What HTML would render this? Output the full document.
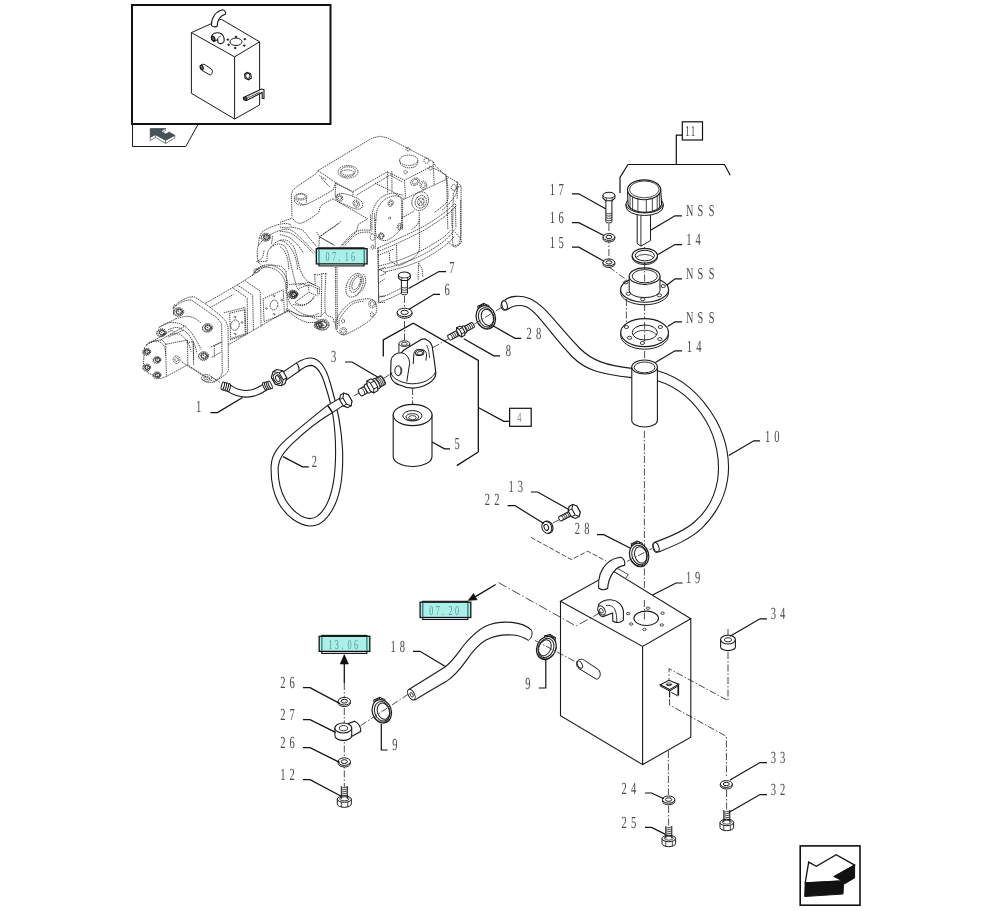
<!DOCTYPE html>
<html lang="en"><head><meta charset="utf-8"><title>Hydraulic tank and filter - parts diagram</title>
<style>
html,body{margin:0;padding:0;background:#fff}
body{width:992px;height:911px;overflow:hidden}
svg{display:block}
svg text{text-rendering:geometricPrecision;font-family:"Liberation Serif","DejaVu Serif",serif}
</style></head><body>
<svg width="992" height="911" viewBox="0 0 992 911" fill="none" stroke-linecap="butt" stroke-linejoin="miter">
<rect width="992" height="911" fill="#fff"/>
<g id="pump" fill="none" stroke="#262626" stroke-width="0.85" stroke-dasharray="1.35 0.8" stroke-linejoin="round">
<path d="M291.9 216.2 L291.5 194.2 L292.6 190.3 L296.3 187.1 L316.0 173.7 L317.9 170.6 L321.2 168.7 L371.9 138.2 L379.6 136.3 L387.3 137.7 L433.2 161.6 L435.5 166.0 L446.2 176.0 L457.2 182.1 L461.0 185.9 L461.0 236.3 L459.1 244.5 L453.3 246.1 L452.4 240.1"/>
<path d="M433.2 161.6 L434.2 185.5"/>
<path d="M446.2 176.0 L447.0 193.2 L447.8 229.6"/>
<path d="M457.2 182.1 L457.2 199.0"/>
<path d="M461.0 185.9 L457.2 187.5 L453.3 193.2 L452.4 240.1"/>
<ellipse cx="453.7" cy="187.5" rx="2.5" ry="2.9"/>
<path d="M317.9 170.6 L335.9 182.7 L352.8 191.7 L387.3 171.8 L404.5 180.2 L433.2 165.4"/>
<path d="M335.9 182.7 L335.2 194.2 L336.7 197.4"/>
<path d="M387.3 171.8 L387.6 193.2"/>
<path d="M404.5 180.2 L405.5 197.0 L402.6 199.9 L402.6 229.6"/>
<path d="M352.8 191.7 L353.2 196.1"/>
<path d="M319.3 175.6 L326.9 180.2"/>
<path d="M321.2 177.9 L329.8 187.1"/>
<path d="M356.6 195.1 L390.1 175.0 L402.6 182.1"/>
<ellipse cx="300.7" cy="196.8" rx="6.1" ry="3.3"/>
<ellipse cx="300.7" cy="196.5" rx="4.6" ry="2.3"/>
<path d="M294.4 198.0 L294.6 201.8"/>
<path d="M306.4 198.0 L306.4 202.4"/>
<path d="M294.6 201.8 C295.2 202.3 296.6 204.2 298.2 204.7 C299.8 205.2 302.6 205.1 303.9 204.7 C305.3 204.3 306.0 202.8 306.4 202.4"/>
<ellipse cx="348.0" cy="171.8" rx="10.0" ry="6.3"/>
<ellipse cx="348.0" cy="171.0" rx="7.3" ry="4.2"/>
<ellipse cx="347.4" cy="173.3" rx="6.9" ry="3.4"/>
<ellipse cx="408.7" cy="160.3" rx="9.2" ry="5.2"/>
<path d="M399.7 160.6 C400.0 161.4 400.1 164.2 401.6 165.4 C403.1 166.6 406.3 167.8 408.7 167.9 C411.1 168.0 414.5 167.2 416.0 166.0 C417.5 164.8 417.6 161.5 417.9 160.6"/>
<ellipse cx="407.9" cy="149.2" rx="2.1" ry="1.7"/>
<ellipse cx="426.5" cy="160.6" rx="2.5" ry="2.7"/>
<ellipse cx="430.5" cy="168.3" rx="1.7" ry="1.9"/>
<ellipse cx="405.5" cy="172.1" rx="1.7" ry="1.7"/>
<ellipse cx="415.0" cy="181.7" rx="4.6" ry="3.4" transform="rotate(-30 415.0 181.7)"/>
<ellipse cx="415.0" cy="181.7" rx="2.9" ry="2.1" transform="rotate(-30 415.0 181.7)"/>
<ellipse cx="423.3" cy="185.2" rx="3.4" ry="4.2"/>
<ellipse cx="423.3" cy="185.2" rx="1.9" ry="2.5"/>
<path d="M335.5 196.1 C336.2 195.7 337.6 193.9 339.4 193.6 C341.1 193.3 343.2 193.4 346.1 194.2 C349.0 194.9 353.9 196.6 356.6 198.0 C359.3 199.4 361.6 201.1 362.4 202.8 C363.2 204.5 362.5 207.1 361.4 208.1 C360.3 209.2 358.4 209.5 355.7 208.9 C352.9 208.3 348.2 206.0 345.1 204.7 C342.1 203.4 339.1 202.7 337.5 201.2 C335.9 199.8 335.9 196.9 335.5 196.1 C335.2 195.2 334.9 196.5 335.5 196.1 Z"/>
<ellipse cx="339.8" cy="198.0" rx="2.7" ry="3.4" transform="rotate(-30 339.8 198.0)"/>
<ellipse cx="339.8" cy="198.0" rx="1.5" ry="2.1" transform="rotate(-30 339.8 198.0)"/>
<ellipse cx="356.2" cy="203.7" rx="2.9" ry="3.8" transform="rotate(-30 356.2 203.7)"/>
<ellipse cx="356.2" cy="203.7" rx="1.5" ry="2.1" transform="rotate(-30 356.2 203.7)"/>
<path d="M375.8 220.0 C376.1 218.1 376.2 211.9 377.7 208.5 C379.1 205.2 381.8 202.0 384.4 199.9 C386.9 197.8 390.5 196.6 393.0 196.1 C395.6 195.6 398.3 195.9 399.7 197.0 C401.1 198.2 401.4 198.0 401.6 202.8 C401.8 207.6 401.8 220.7 401.0 225.8 C400.3 230.9 399.1 231.0 396.8 233.4 C394.5 235.8 390.1 239.2 387.3 240.1 C384.4 241.1 381.5 240.3 379.6 239.2 C377.7 238.1 376.4 236.6 375.8 233.4 C375.1 230.2 375.8 222.3 375.8 220.0 C375.8 217.8 375.4 221.9 375.8 220.0 Z"/>
<path d="M371.9 229.6 C372.1 226.4 371.5 215.7 372.9 210.4 C374.3 205.2 377.4 200.9 380.6 198.0 C383.7 195.1 388.4 193.7 392.0 193.2 C395.7 192.7 400.8 194.8 402.6 195.1"/>
<ellipse cx="390.7" cy="203.2" rx="2.5" ry="3.3" transform="rotate(20 390.7 203.2)"/>
<ellipse cx="390.7" cy="203.2" rx="1.3" ry="1.9" transform="rotate(20 390.7 203.2)"/>
<ellipse cx="399.7" cy="226.7" rx="2.5" ry="3.3" transform="rotate(20 399.7 226.7)"/>
<ellipse cx="399.7" cy="226.7" rx="1.3" ry="1.9" transform="rotate(20 399.7 226.7)"/>
<ellipse cx="381.1" cy="235.7" rx="2.7" ry="2.7"/>
<ellipse cx="381.1" cy="235.7" rx="1.5" ry="1.5"/>
<ellipse cx="389.7" cy="218.1" rx="1.0" ry="1.1"/>
<ellipse cx="420.2" cy="201.2" rx="8.0" ry="9.6" transform="rotate(25 420.2 201.2)"/>
<ellipse cx="420.8" cy="201.8" rx="5.4" ry="6.5" transform="rotate(25 420.8 201.8)"/>
<ellipse cx="420.8" cy="201.8" rx="3.1" ry="3.8" transform="rotate(25 420.8 201.8)"/>
<path d="M416.9 197.0 L424.6 206.6"/>
<path d="M424.0 197.4 L417.5 206.2"/>
<path d="M291.6 217.7 C292.7 218.6 295.7 222.1 297.7 222.8 C299.8 223.5 300.5 223.7 303.8 222.1 C307.2 220.5 314.8 216.0 317.7 213.3 C320.6 210.5 318.7 208.2 321.2 205.7 C323.8 203.3 331.2 199.8 333.2 198.6"/>
<path d="M295.5 199.7 C296.4 200.4 299.0 203.2 301.1 203.8 C303.1 204.5 302.4 206.2 307.7 203.8 C313.1 201.5 329.0 192.3 333.2 190.0"/>
<path d="M333.2 190.0 L335.4 183.3 L351.0 191.1"/>
<path d="M280.0 222.4 L291.6 218.3"/>
<path d="M280.0 227.1 C281.1 227.3 284.8 227.9 286.7 227.9 C288.5 227.9 288.5 226.8 291.1 227.1 C293.7 227.5 299.2 228.4 302.2 230.1 C305.2 231.9 306.5 234.7 309.1 237.7 C311.6 240.6 316.3 246.2 317.7 247.9"/>
<path d="M280.0 231.2 C281.8 231.6 287.4 231.6 291.1 233.4 C294.8 235.3 298.5 238.8 302.2 242.1 C305.9 245.4 311.4 251.5 313.3 253.4"/>
<path d="M280.0 234.6 C281.7 235.1 286.8 235.9 290.0 237.9 C293.1 239.9 296.6 243.9 298.9 246.5 C301.1 249.1 302.7 252.3 303.5 253.4"/>
<path d="M280.0 240.1 C281.1 240.7 284.4 241.4 286.7 243.4 C288.9 245.5 291.6 249.2 293.3 252.3 C295.0 255.4 295.9 259.1 296.6 262.1 C297.4 265.0 297.6 268.7 297.7 270.0"/>
<path d="M280.0 246.5 C280.7 247.3 283.1 248.8 284.4 251.0 C285.7 253.2 287.0 256.7 287.8 259.8 C288.5 263.0 288.7 268.3 288.9 270.0"/>
<path d="M318.8 247.9 L319.4 236.8 L339.9 222.7 L340.8 221.2"/>
<path d="M319.4 236.8 L333.2 244.5"/>
<path d="M333.2 198.9 L367.6 218.8 L358.2 224.4 L356.5 231.7 L342.1 245.6"/>
<path d="M370.4 214.4 L370.7 230.1"/>
<path d="M374.5 213.3 L375.4 248.8"/>
<path d="M340.4 246.5 C342.8 244.1 350.1 234.9 354.8 232.1 C359.6 229.4 365.8 230.1 368.7 230.1 C371.7 230.1 371.9 231.8 372.6 232.1"/>
<path d="M343.8 246.5 C345.9 244.5 352.4 236.7 356.5 234.3 C360.7 231.9 366.2 232.1 368.7 232.1 C371.2 232.1 371.0 234.0 371.5 234.3"/>
<ellipse cx="372.6" cy="237.1" rx="2.4" ry="3.3"/>
<ellipse cx="381.5" cy="236.0" rx="2.4" ry="2.9"/>
<ellipse cx="372.6" cy="247.1" rx="1.3" ry="2.2"/>
<path d="M259.3 237.9 C259.9 236.8 260.4 233.3 263.1 231.2 C265.8 229.1 271.9 226.7 275.5 225.4 C279.2 224.2 282.5 223.6 285.1 223.5 C287.7 223.4 290.2 224.6 291.2 224.9"/>
<path d="M257.3 256.1 C257.4 254.6 256.8 250.3 257.9 247.5 C259.0 244.6 261.1 241.4 264.1 238.8 C267.0 236.3 271.9 233.7 275.5 232.1 C279.2 230.5 283.2 229.4 286.1 229.3 C289.0 229.1 290.4 229.7 292.8 231.2 C295.2 232.6 297.6 235.2 300.4 237.9 C303.3 240.6 307.5 244.9 310.0 247.5 C312.6 250.0 314.8 252.2 315.8 253.2"/>
<path d="M266.9 261.2 C267.1 259.5 266.8 253.7 268.3 250.9 C269.7 248.1 273.1 245.5 275.5 244.6 C278.0 243.6 281.2 244.0 283.2 245.2 C285.2 246.3 286.2 248.4 287.4 251.3 C288.6 254.2 289.4 258.6 290.5 262.8 C291.5 266.9 292.7 272.2 293.7 276.2 C294.8 280.2 295.7 284.3 296.6 286.7 C297.6 289.1 299.0 289.9 299.5 290.6"/>
<path d="M270.2 247.5 C271.4 246.4 274.8 242.5 277.5 241.3 C280.1 240.1 283.5 239.5 286.1 240.2 C288.6 240.9 291.0 243.1 292.8 245.5 C294.5 248.0 295.3 251.0 296.6 255.1 C297.9 259.3 298.8 266.3 300.4 270.4 C302.0 274.6 303.6 277.5 306.2 280.0 C308.7 282.6 314.2 284.8 315.8 285.8"/>
<path d="M257.3 256.1 L257.9 261.8 L266.9 261.2"/>
<path d="M257.9 261.8 L261.2 265.1"/>
<ellipse cx="266.0" cy="236.9" rx="4.6" ry="3.7"/>
<ellipse cx="265.4" cy="237.9" rx="4.4" ry="3.4"/>
<ellipse cx="266.4" cy="236.7" rx="3.0" ry="2.5"/>
<ellipse cx="266.4" cy="237.5" rx="2.8" ry="2.2"/>
<path d="M269.2 237.5 L267.3 239.3 L264.5 238.9 L263.5 236.7 L265.4 235.0 L268.2 235.4 Z"/>
<path d="M263.7 235.5 L268.5 238.5"/>
<path d="M259.3 237.9 L258.3 245.5"/>
<path d="M272.7 236.0 L271.3 244.6"/>
<ellipse cx="293.7" cy="294.4" rx="4.2" ry="3.4"/>
<ellipse cx="293.2" cy="295.3" rx="4.0" ry="3.2"/>
<ellipse cx="294.1" cy="294.2" rx="2.8" ry="2.3"/>
<ellipse cx="294.1" cy="295.0" rx="2.5" ry="2.0"/>
<path d="M296.7 294.9 L295.0 296.6 L292.4 296.2 L291.6 294.2 L293.2 292.6 L295.8 293.0 Z"/>
<path d="M291.6 293.1 L296.1 295.9"/>
<path d="M255.4 271.4 C256.4 270.5 258.6 267.3 261.2 266.2 C263.7 265.2 267.4 264.4 270.8 265.1 C274.1 265.8 278.6 268.0 281.3 270.4 C284.0 272.9 286.0 276.8 287.0 280.0 C288.1 283.2 287.4 288.0 287.4 289.6"/>
<path d="M252.6 274.3 C253.7 273.3 256.3 269.6 259.3 268.5 C262.2 267.4 266.8 266.9 270.2 267.6 C273.6 268.3 277.3 270.3 279.8 272.7 C282.2 275.1 284.1 278.5 285.1 281.9 C286.2 285.4 285.9 291.5 286.1 293.4"/>
<path d="M287.4 297.3 C288.1 298.5 289.1 302.4 291.2 304.9 C293.4 307.5 297.0 310.7 300.4 312.6 C303.9 314.5 308.4 315.8 311.9 316.4 C315.4 317.0 319.9 316.4 321.5 316.4"/>
<path d="M295.7 303.0 C296.8 303.3 300.0 305.1 302.4 304.9 C304.8 304.8 308.1 303.3 310.0 302.0 C311.9 300.8 313.2 298.1 313.9 297.3"/>
<path d="M286.1 308.8 C287.5 310.0 291.3 314.2 294.7 316.4 C298.0 318.6 302.7 321.2 306.2 322.2 C309.7 323.1 314.2 322.2 315.8 322.2"/>
<path d="M378.0 247.5 L378.6 303.0"/>
<path d="M378.6 303.0 C379.3 302.7 380.5 302.0 382.8 301.1 C385.1 300.1 388.9 298.9 392.4 297.3 C395.9 295.7 402.0 292.5 403.9 291.5"/>
<path d="M378.6 297.3 C380.2 296.8 384.7 296.0 388.5 294.4 C392.4 292.8 399.7 288.8 402.0 287.7"/>
<path d="M316.7 232.1 L319.6 236.9 L334.9 245.5"/>
<path d="M319.6 236.9 C320.9 236.0 324.7 232.9 327.3 231.2 C329.8 229.4 333.0 227.8 334.9 226.4 C336.8 225.0 338.1 223.2 338.8 222.6"/>
<path d="M445.4 179.8 L403.7 199.4"/>
<path d="M445.9 174.1 L446.3 179.8"/>
<path d="M434.4 168.3 L445.9 175.0"/>
<path d="M446.8 176.0 C447.0 179.8 448.6 193.8 447.8 199.0 C447.0 204.1 444.3 204.4 442.0 206.6 C439.8 208.8 435.7 211.4 434.4 212.4"/>
<path d="M457.4 181.7 C457.2 183.6 457.7 189.7 456.4 193.2 C455.1 196.7 452.1 199.9 449.7 202.8 C447.3 205.7 443.3 209.2 442.0 210.4"/>
<path d="M375.0 183.2 L392.0 191.3 L403.7 199.0"/>
<path d="M391.8 171.2 L392.0 191.3"/>
<path d="M377.9 247.9 C381.4 246.3 391.4 241.8 398.9 238.3 C406.4 234.8 415.7 230.8 422.9 226.8 C430.1 222.8 436.8 218.2 442.0 214.4 C447.3 210.5 452.4 205.6 454.5 203.8"/>
<path d="M377.9 251.7 C381.5 250.1 392.1 245.8 399.9 242.1 C407.7 238.5 417.3 234.0 424.8 229.7 C432.3 225.4 439.6 220.3 444.9 216.3 C450.2 212.3 454.5 207.5 456.4 205.7"/>
<path d="M377.9 255.5 L394.2 248.8"/>
<path d="M378.8 266.1 C382.2 265.1 391.9 262.9 398.9 260.3 C406.0 257.8 413.8 254.4 421.0 250.8 C428.2 247.1 436.9 241.8 442.0 238.3 C447.1 234.8 450.0 231.1 451.6 229.7"/>
<path d="M378.8 269.9 C382.3 269.0 392.6 266.7 399.9 264.2 C407.2 261.6 415.5 258.4 422.9 254.6 C430.2 250.8 438.5 245.5 444.0 241.2 C449.4 236.9 453.5 230.8 455.4 228.7"/>
<path d="M384.6 272.0 C387.8 271.2 397.0 269.3 403.7 267.0 C410.4 264.8 417.8 262.3 424.8 258.6 C431.8 254.9 440.9 248.7 445.9 245.0 C450.8 241.3 453.0 237.8 454.5 236.4"/>
<path d="M451.6 209.6 L452.1 227.8"/>
<path d="M455.4 203.8 L455.9 227.8"/>
<path d="M460.7 200.0 L460.7 241.2"/>
<path d="M447.8 241.2 C448.4 241.8 450.2 244.1 451.6 245.0 C453.0 246.0 454.8 247.4 456.4 246.9 C458.0 246.4 460.6 243.6 461.2 242.1 C461.8 240.7 461.3 240.1 460.2 238.3 C459.1 236.6 455.4 232.7 454.5 231.6"/>
<path d="M377.9 247.9 L378.4 269.0 L386.5 272.8"/>
<path d="M419.2 212.4 L419.5 248.8"/>
<path d="M396.5 245.0 L397.0 265.1"/>
<path d="M389.4 252.7 L389.6 260.3 L396.5 265.1"/>
<path d="M419.5 219.2 C419.1 220.1 418.5 223.1 417.1 224.9 C415.8 226.7 412.3 228.9 411.4 229.7"/>
<path d="M419.5 248.8 C419.0 250.0 418.3 253.3 416.2 255.5 C414.0 257.8 409.6 260.5 406.6 262.2 C403.6 264.0 399.4 265.4 398.0 266.1"/>
<path d="M402.3 217.7 L414.3 211.0"/>
<path d="M418.6 263.2 C419.1 264.2 421.2 266.7 421.9 269.0 C422.6 271.2 422.7 275.3 422.9 276.6"/>
<path d="M418.6 263.2 L418.1 279.5"/>
<path d="M380.7 275.7 L386.5 272.8"/>
<path d="M335.4 267.1 L335.9 329.6"/>
<path d="M336.9 267.1 L337.4 329.6"/>
<path d="M314.7 274.2 L315.2 284.2"/>
<path d="M321.8 273.6 L321.3 315.5 L325.3 311.5"/>
<path d="M325.8 273.6 C325.7 279.9 324.2 303.6 325.3 310.9 C326.4 318.3 330.9 315.4 332.4 317.5 C333.9 319.6 334.1 322.5 334.4 323.5"/>
<path d="M314.7 274.2 L318.3 275.2 L321.8 273.6 L327.3 273.6"/>
<path d="M299.1 288.3 L308.7 284.7 L319.3 289.3"/>
<path d="M308.7 284.7 L308.7 291.3"/>
<path d="M298.6 285.2 L308.7 282.2 L319.8 287.5 L319.3 295.1"/>
<path d="M295.1 302.4 L308.7 292.3 L317.3 295.8"/>
<path d="M317.3 288.3 L317.8 295.3"/>
<path d="M293.1 304.4 C294.7 304.6 300.3 305.9 303.1 305.4 C306.0 304.9 308.4 302.9 310.2 301.4 C312.0 299.9 313.6 297.2 314.2 296.3"/>
<path d="M285.0 312.5 C286.0 312.3 288.5 310.9 291.0 311.5 C293.6 312.0 296.9 314.6 300.1 315.5 C303.3 316.4 307.2 316.0 310.2 316.7 C313.2 317.4 316.9 319.0 318.3 319.5"/>
<ellipse cx="322.5" cy="324.6" rx="6.7" ry="5.3"/>
<ellipse cx="322.2" cy="325.1" rx="6.3" ry="5.0"/>
<ellipse cx="322.7" cy="324.5" rx="4.4" ry="3.6"/>
<ellipse cx="322.7" cy="324.9" rx="4.0" ry="3.2"/>
<path d="M326.8 325.2 L324.1 327.8 L320.1 327.2 L318.6 324.1 L321.3 321.5 L325.4 322.1 Z"/>
<path d="M319.2 322.6 L326.2 326.9"/>
<path d="M336.4 329.6 C335.6 326.7 335.2 321.9 337.4 317.5 C339.6 313.1 345.5 306.4 349.5 303.4 C353.5 300.4 357.9 300.0 361.6 299.4 C365.3 298.7 369.3 298.5 371.7 299.4 C374.1 300.2 375.6 302.0 376.2 304.4 C376.9 306.7 377.5 310.3 375.7 313.5 C374.0 316.7 370.0 320.4 365.6 323.5 C361.3 326.7 353.4 330.7 349.5 332.6 C345.7 334.5 344.6 335.3 342.5 334.8 C340.3 334.3 337.3 332.5 336.4 329.6 Z"/>
<path d="M339.4 325.6 C339.5 324.4 337.9 322.0 339.9 318.5 C342.0 315.0 347.6 307.5 351.5 304.6 C355.5 301.7 361.6 301.6 363.6 301.0"/>
<ellipse cx="372.2" cy="304.0" rx="3.5" ry="4.0"/>
<ellipse cx="372.2" cy="304.0" rx="2.0" ry="2.4"/>
<ellipse cx="371.9" cy="314.5" rx="1.5" ry="2.5"/>
<ellipse cx="343.0" cy="321.0" rx="1.5" ry="2.0"/>
<ellipse cx="343.3" cy="331.1" rx="3.5" ry="3.5"/>
<ellipse cx="343.3" cy="331.1" rx="2.0" ry="2.0"/>
<ellipse cx="354.6" cy="285.2" rx="7.6" ry="12.6" transform="rotate(25 354.6 285.2)"/>
<ellipse cx="355.6" cy="283.7" rx="5.0" ry="9.3" transform="rotate(25 355.6 283.7)"/>
<ellipse cx="356.2" cy="283.2" rx="3.4" ry="7.1" transform="rotate(25 356.2 283.2)"/>
<path d="M363.6 274.2 C364.0 275.2 366.0 277.7 365.8 280.2 C365.7 282.7 364.5 286.6 362.8 289.3 C361.1 292.0 356.8 295.3 355.6 296.5"/>
<path d="M378.2 270.1 L378.8 302.4"/>
<path d="M378.2 283.2 L385.0 278.7"/>
<path d="M378.2 270.1 L385.0 267.1"/>
<path d="M379.8 296.3 L385.0 296.3"/>
<path d="M379.8 302.4 L385.0 302.4"/>
<path d="M173.7 307.8 C174.4 307.0 175.6 304.6 177.9 302.9 C180.2 301.2 184.7 298.7 187.5 297.7 C190.2 296.7 193.0 296.9 194.2 296.7"/>
<path d="M194.2 296.7 L206.6 304.6 L220.0 315.1 L225.8 321.2 L228.1 327.0 L228.4 370.7 L225.0 374.9 L214.3 382.2"/>
<path d="M174.4 307.5 C175.4 306.7 178.0 304.1 180.2 302.9 C182.4 301.6 185.5 300.6 187.5 300.2 C189.4 299.7 191.0 300.2 191.7 300.2"/>
<path d="M191.7 300.2 L217.1 318.0 L221.6 323.7 L222.3 372.6 L220.0 377.4 L212.7 382.5 L206.2 382.2 L200.9 378.7"/>
<path d="M173.7 307.8 L173.7 315.1"/>
<ellipse cx="178.8" cy="311.7" rx="5.0" ry="4.0"/>
<ellipse cx="178.3" cy="312.6" rx="4.7" ry="3.7"/>
<ellipse cx="179.2" cy="311.5" rx="3.3" ry="2.7"/>
<ellipse cx="179.2" cy="312.2" rx="3.0" ry="2.4"/>
<path d="M182.3 312.3 L180.3 314.2 L177.2 313.8 L176.2 311.4 L178.2 309.5 L181.2 310.0 Z"/>
<path d="M176.4 310.2 L181.6 313.4"/>
<ellipse cx="207.6" cy="327.6" rx="5.0" ry="4.0"/>
<ellipse cx="207.0" cy="328.5" rx="4.7" ry="3.7"/>
<ellipse cx="208.0" cy="327.4" rx="3.3" ry="2.7"/>
<ellipse cx="208.0" cy="328.1" rx="3.0" ry="2.4"/>
<path d="M211.0 328.2 L209.0 330.1 L206.0 329.7 L204.9 327.3 L206.9 325.4 L209.9 325.9 Z"/>
<path d="M205.1 326.1 L210.3 329.3"/>
<ellipse cx="203.7" cy="355.7" rx="5.0" ry="4.0"/>
<ellipse cx="203.2" cy="356.7" rx="4.7" ry="3.7"/>
<ellipse cx="204.1" cy="355.5" rx="3.3" ry="2.7"/>
<ellipse cx="204.1" cy="356.3" rx="3.0" ry="2.4"/>
<path d="M207.2 356.3 L205.2 358.3 L202.1 357.8 L201.1 355.5 L203.1 353.6 L206.1 354.0 Z"/>
<path d="M201.2 354.2 L206.5 357.5"/>
<ellipse cx="161.6" cy="332.4" rx="4.6" ry="3.7"/>
<ellipse cx="161.0" cy="333.3" rx="4.4" ry="3.4"/>
<ellipse cx="162.0" cy="332.2" rx="3.0" ry="2.5"/>
<ellipse cx="162.0" cy="332.9" rx="2.8" ry="2.2"/>
<path d="M164.8 332.9 L163.0 334.7 L160.2 334.3 L159.2 332.2 L161.0 330.4 L163.8 330.8 Z"/>
<path d="M159.3 331.0 L164.1 334.0"/>
<ellipse cx="206.6" cy="377.9" rx="5.0" ry="3.4"/>
<ellipse cx="206.6" cy="377.9" rx="2.7" ry="1.7"/>
<path d="M214.3 345.8 L222.3 341.9"/>
<path d="M214.3 345.8 L214.3 357.3"/>
<path d="M158.7 327.6 C160.3 326.8 164.8 323.4 168.3 322.8 C171.8 322.1 176.3 322.5 179.8 323.7 C183.3 325.0 186.7 327.7 189.4 330.4 C192.1 333.2 194.1 336.8 196.1 340.0 C198.1 343.2 200.4 348.0 201.2 349.6"/>
<path d="M168.3 329.5 C169.9 329.2 174.7 326.9 177.9 327.6 C181.1 328.2 184.7 330.6 187.5 333.3 C190.2 336.0 192.6 340.5 194.2 343.9 C195.8 347.2 196.6 351.8 197.0 353.4"/>
<path d="M170.2 334.3 C171.8 334.3 176.9 333.0 179.8 334.3 C182.7 335.6 185.5 339.1 187.5 341.9 C189.4 344.8 190.7 349.9 191.3 351.5"/>
<path d="M205.7 303.2 L237.3 284.9 L252.6 275.3 L264.1 266.9 L271.7 264.9 L281.3 266.3 L286.1 271.1"/>
<path d="M210.4 307.5 L233.4 294.4"/>
<path d="M228.4 344.8 L262.2 325.1 L289.0 309.8"/>
<path d="M223.9 312.8 L244.9 307.5 L246.1 334.7 L229.6 340.0"/>
<path d="M229.6 313.2 L244.5 309.8 L245.3 333.9 L230.7 338.5 L229.6 313.2"/>
<ellipse cx="235.0" cy="325.1" rx="4.2" ry="5.2" transform="rotate(15 235.0 325.1)"/>
<ellipse cx="235.0" cy="317.0" rx="0.8" ry="1.0"/>
<ellipse cx="242.0" cy="322.4" rx="0.8" ry="1.0"/>
<ellipse cx="235.0" cy="333.9" rx="0.8" ry="1.0"/>
<path d="M232.5 287.7 L247.2 297.9 L247.6 334.3"/>
<path d="M237.3 284.9 L252.6 295.2 L253.5 330.8"/>
<path d="M244.9 280.6 L260.2 291.2 L261.2 326.6"/>
<path d="M263.1 298.8 L283.2 289.6 L284.4 313.2 L264.1 321.8 L263.1 298.8"/>
<ellipse cx="274.0" cy="305.0" rx="3.8" ry="5.0" transform="rotate(15 274.0 305.0)"/>
<ellipse cx="274.0" cy="296.0" rx="0.8" ry="1.0"/>
<ellipse cx="281.7" cy="300.2" rx="0.8" ry="1.0"/>
<ellipse cx="274.0" cy="314.2" rx="0.8" ry="1.0"/>
<ellipse cx="266.4" cy="308.4" rx="0.8" ry="1.0"/>
<path d="M286.1 271.1 L287.4 311.3"/>
<path d="M252.6 275.3 L256.4 269.2 L264.1 265.3"/>
<ellipse cx="256.4" cy="270.7" rx="2.7" ry="1.9"/>
<path d="M149.2 343.3 L171.2 330.4 L174.4 331.4"/>
<path d="M166.4 344.2 L187.5 340.0 L187.8 364.9"/>
<path d="M166.4 376.4 L187.5 364.9 L214.3 382.2"/>
<path d="M181.7 362.0 L206.6 377.9"/>
<path d="M160.6 340.0 L185.5 325.7"/>
<path d="M144.4 347.7 C145.2 346.9 146.4 344.6 149.2 343.3 C151.9 342.0 157.9 339.9 160.6 340.0 C163.4 340.1 164.8 343.2 165.6 343.9"/>
<path d="M165.6 343.9 L166.4 376.4 L160.6 378.7 L148.2 373.0 L143.4 364.9 L144.4 347.7"/>
<path d="M193.2 341.9 L193.6 364.9"/>
<ellipse cx="176.5" cy="359.6" rx="3.4" ry="3.8"/>
<ellipse cx="176.5" cy="359.6" rx="1.7" ry="1.9"/>
<ellipse cx="146.9" cy="351.5" rx="3.8" ry="3.1"/>
<ellipse cx="146.3" cy="352.5" rx="3.6" ry="2.9"/>
<ellipse cx="147.2" cy="351.3" rx="2.5" ry="2.1"/>
<ellipse cx="147.2" cy="352.1" rx="2.3" ry="1.8"/>
<path d="M149.6 352.0 L148.1 353.5 L145.7 353.2 L144.9 351.4 L146.4 349.9 L148.8 350.2 Z"/>
<path d="M144.9 350.4 L149.0 352.9"/>
<ellipse cx="157.2" cy="359.6" rx="3.8" ry="3.1"/>
<ellipse cx="156.6" cy="360.5" rx="3.6" ry="2.9"/>
<ellipse cx="157.6" cy="359.4" rx="2.5" ry="2.1"/>
<ellipse cx="157.6" cy="360.1" rx="2.3" ry="1.8"/>
<path d="M159.9 360.1 L158.4 361.5 L156.1 361.2 L155.2 359.4 L156.8 357.9 L159.1 358.3 Z"/>
<path d="M155.3 358.4 L159.3 360.9"/>
<ellipse cx="146.9" cy="367.2" rx="3.8" ry="3.1"/>
<ellipse cx="146.3" cy="368.2" rx="3.6" ry="2.9"/>
<ellipse cx="147.2" cy="367.0" rx="2.5" ry="2.1"/>
<ellipse cx="147.2" cy="367.8" rx="2.3" ry="1.8"/>
<path d="M149.6 367.7 L148.1 369.2 L145.7 368.9 L144.9 367.1 L146.4 365.6 L148.8 365.9 Z"/>
<path d="M144.9 366.1 L149.0 368.6"/>
<ellipse cx="157.2" cy="374.9" rx="3.8" ry="3.1"/>
<ellipse cx="156.6" cy="375.8" rx="3.6" ry="2.9"/>
<ellipse cx="157.6" cy="374.7" rx="2.5" ry="2.1"/>
<ellipse cx="157.6" cy="375.5" rx="2.3" ry="1.8"/>
<path d="M159.9 375.4 L158.4 376.9 L156.1 376.5 L155.2 374.7 L156.8 373.3 L159.1 373.6 Z"/>
<path d="M155.3 373.7 L159.3 376.2"/>
<ellipse cx="292.8" cy="294.1" rx="5.0" ry="4.0"/>
<ellipse cx="292.2" cy="295.0" rx="4.7" ry="3.7"/>
<ellipse cx="293.2" cy="293.9" rx="3.3" ry="2.7"/>
<ellipse cx="293.2" cy="294.6" rx="3.0" ry="2.4"/>
<path d="M296.2 294.7 L294.2 296.6 L291.2 296.2 L290.1 293.8 L292.1 291.9 L295.2 292.3 Z"/>
<path d="M290.3 292.6 L295.5 295.8"/>
<ellipse cx="318.7" cy="324.7" rx="4.2" ry="3.4"/>
<ellipse cx="318.1" cy="325.7" rx="4.0" ry="3.2"/>
<ellipse cx="319.0" cy="324.5" rx="2.8" ry="2.3"/>
<ellipse cx="319.0" cy="325.3" rx="2.5" ry="2.0"/>
<path d="M321.6 325.3 L319.9 326.9 L317.4 326.5 L316.5 324.5 L318.1 322.9 L320.7 323.3 Z"/>
<path d="M316.6 323.4 L321.0 326.2"/>
<path d="M289.0 284.5 L302.4 283.5 L308.1 286.4"/>
<path d="M256.4 261.5 C257.4 260.9 260.9 259.6 262.2 257.7 C263.4 255.7 263.8 251.3 264.1 250.0"/>
<path d="M289.0 309.8 C290.6 310.7 295.0 314.1 298.5 315.1 C302.1 316.2 306.5 316.4 310.0 316.1 C313.6 315.8 318.0 313.7 319.6 313.2"/>
<path d="M175.8 318.8 L167.9 322.9 L159.4 327.1"/>
<path d="M175.8 318.8 C177.6 318.4 183.4 316.4 186.6 316.3 C189.8 316.3 192.4 317.2 194.8 318.3 C197.2 319.4 199.9 322.2 200.9 322.9"/>
<path d="M210.7 347.1 L221.2 342.1"/>
<path d="M211.8 357.2 L221.7 351.7"/>
<path d="M186.6 342.7 L193.2 341.6 L193.7 360.3"/>
<path d="M183.3 330.1 L167.9 337.2"/>
<path d="M146.0 344.9 C146.9 344.3 149.3 342.1 151.5 341.6 C153.7 341.0 157.0 340.7 159.1 341.6 C161.3 342.5 163.5 344.7 164.6 347.1 C165.7 349.5 165.6 354.4 165.7 355.9"/>
<path d="M174.5 304.3 L172.9 308.7"/>
</g>
<g id="thumb">
<rect x="132" y="5" width="198.5" height="119" fill="#fff" stroke="#111" stroke-width="2"/>
<path d="M132.5 124 V146.5 H185.8 L197.9 124.6" stroke="#1a1a1a" stroke-width="1.0" fill="none" />
<path d="M150.2 137.3 L155.4 134.5 L165.5 140.2 L174.8 135.3 V138.1 L165.5 143.4 L155.4 137.4 L150.2 140.6 Z" stroke="#3f4a4e" stroke-width="0.7" fill="#fff" />
<path d="M155.4 134.5 V137.4 M165.5 140.2 V143.4" stroke="#3f4a4e" stroke-width="0.7" fill="none" />
<path d="M150.2 128.5 H165.5 L161.1 131.3 L165.9 134.1 L169.1 132.1 L174.8 135.3 L165.5 140.2 L155.4 134.5 L150.2 137.3 Z" stroke="#3f4a4e" stroke-width="0.7" fill="#46545a" />
<path d="M165.5 128.7 L165.7 130.4 L162.6 132 L161.1 131.3 Z" stroke="#3f4a4e" stroke-width="0.5" fill="#fff" />
<path d="M191.4 32.6 L221.2 19.2 L259.6 41.8 L234.6 56.9 Z" stroke="#1a1a1a" stroke-width="1" fill="none" />
<path d="M191.4 32.6 V93.3 L234.6 119 L259.6 105 V41.8 M234.6 56.9 V119" stroke="#1a1a1a" stroke-width="1" fill="none" />
<path d="M211.4 25.2 C211.4 17.6 215.6 11.4 222.6 9.8 C224.6 9.8 226 12.4 225.6 14 C220.6 15.6 217.4 19.6 217.2 26 C215.6 27.4 212.6 27 211.4 25.2 Z" stroke="#1a1a1a" stroke-width="1.1" fill="#fff" />
<path d="M211.6 36.4 C212 33.4 216 32.2 219.4 33 C223 34 224.4 37.4 224.2 41 C223.6 43.6 220 44.4 218 42.6 L217.6 39.6 L214.2 41.4 C212.2 41.2 211.2 39 211.6 36.4Z" stroke="#1a1a1a" stroke-width="1.1" fill="#fff" />
<ellipse cx="213.2" cy="38.6" rx="1.5" ry="2.5" stroke="#1a1a1a" stroke-width="1.3" fill="#666" transform="rotate(-25 213.2 38.6)"/>
<path d="M217.6 39.6 C217.4 37.6 219 36.4 220.6 36.6" stroke="#1a1a1a" stroke-width="0.8" fill="none" />
<ellipse cx="236" cy="41.8" rx="6.0" ry="3.7" stroke="#1a1a1a" stroke-width="1.0" fill="none"/>
<ellipse cx="227.8" cy="39.6" rx="0.9" ry="0.7" stroke="#1a1a1a" stroke-width="0.9" fill="#222"/>
<ellipse cx="236" cy="36.8" rx="0.9" ry="0.7" stroke="#1a1a1a" stroke-width="0.9" fill="#222"/>
<ellipse cx="244.8" cy="39.2" rx="0.9" ry="0.7" stroke="#1a1a1a" stroke-width="0.9" fill="#222"/>
<ellipse cx="228.6" cy="44.8" rx="0.9" ry="0.7" stroke="#1a1a1a" stroke-width="0.9" fill="#222"/>
<ellipse cx="235.2" cy="48" rx="0.9" ry="0.7" stroke="#1a1a1a" stroke-width="0.9" fill="#222"/>
<ellipse cx="244.2" cy="45.6" rx="0.9" ry="0.7" stroke="#1a1a1a" stroke-width="0.9" fill="#222"/>
<path d="M200.6 65.6 C201.6 64 203.8 64 205 64.8 L211.4 69 C213.2 70.8 212.4 74.8 210 75 L201.6 70.2 C200 69 199.8 66.8 200.6 65.6Z" stroke="#1a1a1a" stroke-width="1.0" fill="#fff" />
<ellipse cx="201.8" cy="67.4" rx="1.3" ry="2.4" stroke="#1a1a1a" stroke-width="1.1" fill="#777" transform="rotate(-25 201.8 67.4)"/>
<path d="M244.6 74 l2.6 -1.6 l3.4 1.2 l0.8 4.4 l-2.8 1.8 l-3.6 -1.6 Z" stroke="#1a1a1a" stroke-width="1.1" fill="#fff" />
<ellipse cx="247.8" cy="75.8" rx="2.2" ry="2.6" stroke="#1a1a1a" stroke-width="1.0" fill="none"/>
<path d="M243.5 97.5 L261.5 89 L264 89.6 V98.4 L262.2 98.2 V92.4 L246.5 100.4 C244 100.8 243 99 243.5 97.5Z" stroke="#1a1a1a" stroke-width="1.1" fill="#fff" />
<path d="M246.5 98.4 L260 92" stroke="#1a1a1a" stroke-width="1.3" fill="none" stroke-dasharray="1.2 1"/>
<ellipse cx="245.6" cy="98.4" rx="1.2" ry="1.6" stroke="#1a1a1a" stroke-width="1.0" fill="#555"/>
</g>
<g id="filler">
<rect x="682.3" y="121.8" width="20.2" height="18.2" fill="#fff" stroke="#111" stroke-width="1.2"/>
<path d="M682.30 135.20 L676.30 135.20 L676.30 164.50" stroke="#111" stroke-width="1.2" fill="none" />
<path d="M620.00 193.00 L620.00 177.50 L628.00 164.50 L724.50 164.50 L730.20 175.20" stroke="#111" stroke-width="1.2" fill="none" />
<path d="M608.9 224 V266 " stroke="#222" stroke-width="0.8" fill="none" stroke-dasharray="7 2 1.5 2"/>
<path d="M608.9 267 L627.5 280.5" stroke="#222" stroke-width="0.8" fill="none" stroke-dasharray="7 2 1.5 2"/>
<path d="M605.9 199.6 V221.79999999999998 A3.0 1.2 0 0 0 611.9 221.79999999999998 V199.6 Z" stroke="#1a1a1a" stroke-width="1" fill="#fff" />
<path d="M605.9 219.5 A3.0 1.2 0 0 0 611.9 219.5" stroke="#1a1a1a" stroke-width="0.8" fill="none" />
<path d="M605.9 217.2 A3.0 1.2 0 0 0 611.9 217.2" stroke="#1a1a1a" stroke-width="0.8" fill="none" />
<path d="M605.9 214.9 A3.0 1.2 0 0 0 611.9 214.9" stroke="#1a1a1a" stroke-width="0.8" fill="none" />
<path d="M605.9 212.6 A3.0 1.2 0 0 0 611.9 212.6" stroke="#1a1a1a" stroke-width="0.8" fill="none" />
<path d="M602.9 195.5 V198.2 L605.6999999999999 200.7 H612.1 L614.9 198.2 V195.5 A6.0 3.3 0 0 0 602.9 195.5 Z" stroke="#1a1a1a" stroke-width="1.05" fill="#fff" />
<path d="M602.9 195.5 A6.0 2.6 0 0 0 614.9 195.5" stroke="#1a1a1a" stroke-width="0.85" fill="none" />
<path d="M606.3 198.0 V200.5 M612.1 197.8 V200.5" stroke="#1a1a1a" stroke-width="0.8" fill="none" />
<path d="M603.0 237 v1.6 A5.9 3.4 0 0 0 614.8 238.6 v-1.6" stroke="#1a1a1a" stroke-width="1.0" fill="#fff" />
<ellipse cx="608.9" cy="237" rx="5.9" ry="3.4" stroke="#1a1a1a" stroke-width="1.0" fill="#fff"/>
<ellipse cx="608.9" cy="237" rx="2.95" ry="1.7" stroke="#1a1a1a" stroke-width="1.0" fill="#fff"/>
<path d="M603.0 262.4 v1.6 A5.9 3.4 0 0 0 614.8 264.0 v-1.6" stroke="#1a1a1a" stroke-width="1.0" fill="#fff" />
<ellipse cx="608.9" cy="262.4" rx="5.9" ry="3.4" stroke="#1a1a1a" stroke-width="1.0" fill="#fff"/>
<ellipse cx="608.9" cy="262.4" rx="2.95" ry="1.7" stroke="#1a1a1a" stroke-width="1.0" fill="#fff"/>
<path d="M644.6 247 V262" stroke="#222" stroke-width="0.8" fill="none" stroke-dasharray="7 2 1.5 2"/>
<path d="M644.6 351 V372" stroke="#222" stroke-width="0.8" fill="none" stroke-dasharray="7 2 1.5 2"/>
<path d="M637.2 212 V243.6 L640.9 246.1 L650.5 240.6 V212 Z" stroke="#1a1a1a" stroke-width="1.0" fill="#fff" />
<path d="M640.9 214 V246" stroke="#1a1a1a" stroke-width="0.9" fill="none" />
<path d="M625.9 204 V206.5 A18.7 9 0 0 0 663.3 206.5 V204" stroke="#1a1a1a" stroke-width="1.0" fill="#fff" />
<ellipse cx="644.6" cy="204" rx="18.7" ry="9" stroke="#1a1a1a" stroke-width="1.0" fill="#fff"/>
<path d="M627.5 189.8 L628 203.6 A16.8 8.8 0 0 0 661.6 203.6 L660.7 189.8 Z" stroke="#1a1a1a" stroke-width="1.1" fill="#fff" />
<ellipse cx="644.1" cy="189.8" rx="16.6" ry="9.9" stroke="#1a1a1a" stroke-width="1.15" fill="#fff"/>
<ellipse cx="644.3" cy="189.4" rx="14.8" ry="8.4" stroke="#1a1a1a" stroke-width="0.8" fill="none"/>
<path d="M630 195.0 V207.8" stroke="#1a1a1a" stroke-width="0.8" fill="none" />
<path d="M632.6 196.9 V209.6" stroke="#1a1a1a" stroke-width="0.8" fill="none" />
<path d="M637.9 199.0 V211.6" stroke="#1a1a1a" stroke-width="0.8" fill="none" />
<path d="M646.3 199.6 V212.4" stroke="#1a1a1a" stroke-width="0.8" fill="none" />
<path d="M652.3 198.4 V211.5" stroke="#1a1a1a" stroke-width="0.8" fill="none" />
<path d="M657.2 195.9 V209.5" stroke="#1a1a1a" stroke-width="0.8" fill="none" />
<path d="M659.4 193.6 V208.0" stroke="#1a1a1a" stroke-width="0.8" fill="none" />
<path d="M632.2 255.8 v1.4 A12.6 7.4 0 0 0 657.4 257.2 v-1.4" stroke="#1a1a1a" stroke-width="0.9" fill="#fff" />
<ellipse cx="644.8" cy="255.8" rx="12.6" ry="7.4" stroke="#1a1a1a" stroke-width="1.15" fill="#fff"/>
<ellipse cx="644.8" cy="255.6" rx="9.6" ry="5.3" stroke="#1a1a1a" stroke-width="1.0" fill="#fff"/>
<path d="M636 257.6 A9.6 5.3 0 0 1 653.6 257.6" stroke="#1a1a1a" stroke-width="0.8" fill="none" />
<path d="M620.6 289.6 v2.6 A24 12.6 0 0 0 668.6 292.2 v-2.6" stroke="#1a1a1a" stroke-width="1.0" fill="#fff" />
<ellipse cx="644.6" cy="289.6" rx="24" ry="12.6" stroke="#1a1a1a" stroke-width="1.1" fill="#fff"/>
<path d="M629.2 276.2 V290.6 A15.4 7 0 0 0 660 290.6 V276.2Z" stroke="#1a1a1a" stroke-width="1.0" fill="#fff" />
<ellipse cx="644.6" cy="276.2" rx="15.4" ry="8.3" stroke="#1a1a1a" stroke-width="1.1" fill="#fff"/>
<ellipse cx="644.8" cy="276.2" rx="12.6" ry="6.6" stroke="#1a1a1a" stroke-width="0.95" fill="none"/>
<ellipse cx="625.8" cy="282.4" rx="2.2" ry="1.5" stroke="#1a1a1a" stroke-width="0.85" fill="none"/>
<ellipse cx="663.2" cy="286.1" rx="2.2" ry="1.5" stroke="#1a1a1a" stroke-width="0.85" fill="none"/>
<ellipse cx="628.3" cy="293.8" rx="2.2" ry="1.5" stroke="#1a1a1a" stroke-width="0.85" fill="none"/>
<ellipse cx="642.8" cy="299.2" rx="2.2" ry="1.5" stroke="#1a1a1a" stroke-width="0.85" fill="none"/>
<ellipse cx="659.3" cy="295.3" rx="2.2" ry="1.5" stroke="#1a1a1a" stroke-width="0.85" fill="none"/>
<path d="M644.6 262 V286" stroke="#222" stroke-width="0.8" fill="none" stroke-dasharray="7 2 1.5 2"/>
<path d="M626.4 299 V324" stroke="#222" stroke-width="0.8" fill="none" stroke-dasharray="7 2 1.5 2"/>
<path d="M644.6 304 V320" stroke="#222" stroke-width="0.8" fill="none" stroke-dasharray="7 2 1.5 2"/>
<path d="M620.7 332.6 v2.6 A23.9 14 0 0 0 668.5 335.2 v-2.6" stroke="#1a1a1a" stroke-width="1.0" fill="#fff" />
<ellipse cx="644.6" cy="332.6" rx="23.9" ry="14" stroke="#1a1a1a" stroke-width="1.1" fill="#fff"/>
<ellipse cx="644.8" cy="332.5" rx="12.5" ry="7.5" stroke="#1a1a1a" stroke-width="1.0" fill="none"/>
<path d="M633.2 335 A12.5 7.5 0 0 1 656.4 335" stroke="#1a1a1a" stroke-width="0.8" fill="none" />
<ellipse cx="626.4" cy="327" rx="2.2" ry="1.5" stroke="#1a1a1a" stroke-width="0.85" fill="none"/>
<ellipse cx="660.3" cy="327" rx="2.2" ry="1.5" stroke="#1a1a1a" stroke-width="0.85" fill="none"/>
<ellipse cx="629.6" cy="337.8" rx="2.2" ry="1.5" stroke="#1a1a1a" stroke-width="0.85" fill="none"/>
<ellipse cx="642.4" cy="343" rx="2.2" ry="1.5" stroke="#1a1a1a" stroke-width="0.85" fill="none"/>
<ellipse cx="659.9" cy="339.1" rx="2.2" ry="1.5" stroke="#1a1a1a" stroke-width="0.85" fill="none"/>
<path d="M644.6 322 V342" stroke="#222" stroke-width="0.8" fill="none" stroke-dasharray="7 2 1.5 2"/>
</g>
<g id="hose10">
<path d="M504.6 300.4 C509 296 520 294.8 529.5 298.4 C545 305 556 324 580 348.5 C592 360.5 606 365.5 632 368.4 L657.5 370.8 C682 377.5 702 396 716 420 C727 440 730.5 462 727.5 480 C724.5 500 714 516 702.5 527.6 C690 539.6 672 546.6 658.6 552" stroke="#1a1a1a" stroke-width="1.1" fill="none" />
<path d="M506.6 310 C512 305.6 519.6 304.4 525.6 306.4 C538 312 547 330 572 356.5 C586 370.5 600 374 632 377.6 L657.5 380.8 C678 387 694 401 706 421 C716 438 720.5 460 717.6 480 C714.5 499 706 512 695 521.5 C684 531.5 668 537.6 653.8 542.6" stroke="#1a1a1a" stroke-width="1.1" fill="none" />
<ellipse cx="504.6" cy="305.2" rx="2.6" ry="4.6" stroke="#1a1a1a" stroke-width="1.0" fill="#fff" transform="rotate(-15 504.6 305.2)"/>
<path d="M504.6 300.4 C500.5 300.6 499.6 308.6 503.6 310.2 L506.6 310" stroke="#1a1a1a" stroke-width="1.0" fill="none" />
<ellipse cx="656.2" cy="547.2" rx="2.6" ry="4.8" stroke="#1a1a1a" stroke-width="1.0" fill="#fff" transform="rotate(-20 656.2 547.2)"/>
<path d="M653.8 542.6 C651.6 544.5 653.2 552 656.2 552.6 L658.6 552" stroke="#1a1a1a" stroke-width="1.0" fill="none" />
<path d="M631.8 367 V420.5 A12.8 6.5 0 0 0 657.4 420.5 V367 Z" stroke="#1a1a1a" stroke-width="1.1" fill="#fff" />
<ellipse cx="644.6" cy="367" rx="12.8" ry="7" stroke="#1a1a1a" stroke-width="1.1" fill="#fff"/>
<ellipse cx="644.6" cy="367.4" rx="10.4" ry="5.4" stroke="#1a1a1a" stroke-width="0.9" fill="none"/>
<path d="M644.4 431 V606" stroke="#222" stroke-width="0.8" fill="none" stroke-dasharray="7 2 1.5 2"/>
</g>
<g id="filter">
<path d="M383.30 356.50 L383.30 340.00 L413.30 323.30 L478.30 360.50 L478.30 452.00 L456.80 465.60" stroke="#111" stroke-width="1.3" fill="none" />
<path d="M478.30 407.50 L503.80 421.30 L509.50 421.30" stroke="#111" stroke-width="1.2" fill="none" />
<rect x="509.6" y="408.3" width="21.6" height="18" fill="#fff" stroke="#111" stroke-width="1.2"/>
<path d="M404.5 296 V345" stroke="#222" stroke-width="0.8" fill="none" stroke-dasharray="7 2 1.5 2"/>
<path d="M401.4 279.4 V293.59999999999997 A3.0 1.2 0 0 0 407.4 293.59999999999997 V279.4 Z" stroke="#1a1a1a" stroke-width="1" fill="#fff" />
<path d="M401.4 291.3 A3.0 1.2 0 0 0 407.4 291.3" stroke="#1a1a1a" stroke-width="0.8" fill="none" />
<path d="M401.4 289.0 A3.0 1.2 0 0 0 407.4 289.0" stroke="#1a1a1a" stroke-width="0.8" fill="none" />
<path d="M401.4 286.7 A3.0 1.2 0 0 0 407.4 286.7" stroke="#1a1a1a" stroke-width="0.8" fill="none" />
<path d="M398.5 275.3 V278.0 L401.2 280.5 H407.59999999999997 L410.29999999999995 278.0 V275.3 A5.9 3.3 0 0 0 398.5 275.3 Z" stroke="#1a1a1a" stroke-width="1.05" fill="#fff" />
<path d="M398.5 275.3 A5.9 2.6 0 0 0 410.29999999999995 275.3" stroke="#1a1a1a" stroke-width="0.85" fill="none" />
<path d="M401.79999999999995 277.8 V280.3 M407.59999999999997 277.6 V280.3" stroke="#1a1a1a" stroke-width="0.8" fill="none" />
<path d="M397.20000000000005 312.4 v1.6 A7.4 4.2 0 0 0 412.0 314.0 v-1.6" stroke="#1a1a1a" stroke-width="1.0" fill="#fff" />
<ellipse cx="404.6" cy="312.4" rx="7.4" ry="4.2" stroke="#1a1a1a" stroke-width="1.0" fill="#fff"/>
<ellipse cx="404.6" cy="312.4" rx="3.7" ry="2.1" stroke="#1a1a1a" stroke-width="1.0" fill="#fff"/>
<path d="M390.6 376.1 L391 360.6 C391.5 356 396 352.6 401.2 352.8 L404 350 L409.6 346.6 L420.9 339.7 C423 338.6 425.4 338.8 426.6 339.7 C430 341.6 431.6 344 432.2 346.4 L434.3 360.6 L435.7 371.9 L435.7 374.7 C435 378.6 431.6 382 426.6 384.6 C423 386.6 418 388 412.5 388.1 C408 388 403 386.8 398.3 384.6 C394.6 383 391.6 380.6 390.6 376.1 Z" stroke="#1a1a1a" stroke-width="1.15" fill="#fff" />
<path d="M391 372.6 C392 376.6 394.6 378.6 398.6 380.6 C403 382.6 408 383.8 412.6 383.8 C418 383.6 423 382.6 426.6 380.6 C431 378.2 434.6 375 435.6 371.6" stroke="#1a1a1a" stroke-width="1.0" fill="none" />
<path d="M401.2 352.8 C406 353.2 409.4 357.6 409.6 363.4 L406.8 381.7" stroke="#1a1a1a" stroke-width="1.0" fill="none" />
<ellipse cx="398.3" cy="370.7" rx="3.5" ry="4.9" stroke="#1a1a1a" stroke-width="1.0" fill="none"/>
<path d="M399.6 366.6 C401.2 368 401.4 373 399.6 375" stroke="#1a1a1a" stroke-width="0.8" fill="none" />
<path d="M398.9 343.6 V352.6 M409.7 343.6 V346.8" stroke="#1a1a1a" stroke-width="0.95" fill="none" />
<ellipse cx="404.3" cy="343.6" rx="5.4" ry="2.8" stroke="#1a1a1a" stroke-width="0.95" fill="#fff"/>
<ellipse cx="404.3" cy="343.9" rx="3.0" ry="1.5" stroke="#1a1a1a" stroke-width="0.8" fill="none"/>
<path d="M413.2 364.1 L413.9 353.5 C414.4 351 416 349.6 418.1 349.3 L423.7 350 C425.6 351 426.4 352.8 426.6 354.9 L425.9 360.6" stroke="#1a1a1a" stroke-width="1.0" fill="none" />
<ellipse cx="419.7" cy="352.8" rx="4.2" ry="2.7" stroke="#1a1a1a" stroke-width="0.95" fill="none" transform="rotate(-8 419.7 352.8)"/>
<ellipse cx="419.9" cy="353.2" rx="2.8" ry="1.7" stroke="#1a1a1a" stroke-width="0.8" fill="none" transform="rotate(-8 419.9 353.2)"/>
<path d="M426.6 345 C428.6 349 429.4 354 429.6 358" stroke="#1a1a1a" stroke-width="0.8" fill="none" />
<path d="M412.6 388 V414" stroke="#222" stroke-width="0.8" fill="none" stroke-dasharray="7 2 1.5 2"/>
<path d="M393.2 415 V456.5 A19.4 10 0 0 0 432 456.5 V415 Z" stroke="#1a1a1a" stroke-width="1.1" fill="#fff" />
<ellipse cx="412.6" cy="415" rx="19.4" ry="10.6" stroke="#1a1a1a" stroke-width="1.1" fill="#fff"/>
<ellipse cx="412.4" cy="415.8" rx="9.6" ry="5.2" stroke="#1a1a1a" stroke-width="1.0" fill="none"/>
<ellipse cx="412.4" cy="417" rx="6.4" ry="3.4" stroke="#1a1a1a" stroke-width="0.9" fill="none"/>
<ellipse cx="412.4" cy="417.6" rx="3.8" ry="2" stroke="#1a1a1a" stroke-width="0.8" fill="none"/>
<path d="M433 347.5 L449 338.5" stroke="#222" stroke-width="0.8" fill="none" stroke-dasharray="7 2 1.5 2"/>
<g transform="translate(461.2 331.2) rotate(-28.4)">
<path d="M-13.6 -2.8 H-3.4 A0.9 2.8 0 0 1 -3.4 2.8 H-13.6 A0.9 2.8 0 0 1 -13.6 -2.8Z" stroke="#1a1a1a" stroke-width="1.0" fill="#fff" />
<path d="M-11.60 -2.8 A0.9 2.8 0 0 1 -11.60 2.8" stroke="#1a1a1a" stroke-width="0.8" fill="none" />
<path d="M-9.60 -2.8 A0.9 2.8 0 0 1 -9.60 2.8" stroke="#1a1a1a" stroke-width="0.8" fill="none" />
<path d="M-7.60 -2.8 A0.9 2.8 0 0 1 -7.60 2.8" stroke="#1a1a1a" stroke-width="0.8" fill="none" />
<path d="M-5.60 -2.8 A0.9 2.8 0 0 1 -5.60 2.8" stroke="#1a1a1a" stroke-width="0.8" fill="none" />
<path d="M3.2 -2.8 H13.2 A0.9 2.8 0 0 1 13.2 2.8 H3.2 A0.9 2.8 0 0 1 3.2 -2.8Z" stroke="#1a1a1a" stroke-width="1.0" fill="#fff" />
<path d="M5.20 -2.8 A0.9 2.8 0 0 1 5.20 2.8" stroke="#1a1a1a" stroke-width="0.8" fill="none" />
<path d="M7.20 -2.8 A0.9 2.8 0 0 1 7.20 2.8" stroke="#1a1a1a" stroke-width="0.8" fill="none" />
<path d="M9.20 -2.8 A0.9 2.8 0 0 1 9.20 2.8" stroke="#1a1a1a" stroke-width="0.8" fill="none" />
<path d="M11.20 -2.8 A0.9 2.8 0 0 1 11.20 2.8" stroke="#1a1a1a" stroke-width="0.8" fill="none" />
<path d="M1.6 -3.8 H4 A1.2 3.8 0 0 1 4 3.8 H1.6Z" stroke="#1a1a1a" stroke-width="1.0" fill="#fff" />
</g>
<g transform="translate(459.2 332.3) rotate(-28.4)">
<path d="M0.00 -5.20 L3.60 -5.20 L5.07 -2.60 L5.07 2.60 L3.60 5.20 L0.00 5.20 L-1.47 2.60 L-1.47 -2.60 Z" stroke="#1a1a1a" stroke-width="1.1" fill="#fff" />
<path d="M0.00 -5.20 L1.47 -2.60 L1.47 2.60 L0.00 5.20 L-1.47 2.60 L-1.47 -2.60 Z" stroke="#1a1a1a" stroke-width="1.0" fill="#fff" />
<path d="M1.47 -2.60 L5.07 -2.60 M1.47 2.60 L5.07 2.60" stroke="#1a1a1a" stroke-width="0.9" fill="none" />
</g>
<g transform="translate(485.8 317.4) rotate(-18)">
<path d="M-4.6 -10.5 l0.4 -2.6 l6.6 -0.8 l1.8 1.8 l-0.4 2.6 Z" stroke="#1a1a1a" stroke-width="1.05" fill="#fff" />
<path d="M-3.4 -12.3 l6 -0.7 M4 -12.1 l2.6 1.6 l-0.6 2.2" stroke="#1a1a1a" stroke-width="0.9" fill="none" />
<ellipse cx="0" cy="0" rx="9.5" ry="11.9" stroke="#1a1a1a" stroke-width="1.2" fill="#fff"/>
<ellipse cx="0.4" cy="0.1" rx="7.6" ry="9.9" stroke="#1a1a1a" stroke-width="1.0" fill="#fff"/>
<ellipse cx="1.5" cy="0.4" rx="5.9" ry="8.3" stroke="#1a1a1a" stroke-width="1.0" fill="#fff"/>
<path d="M-8.6 3.2 A8.5 10.8 0 0 0 4.5 9.100000000000001" stroke="#1a1a1a" stroke-width="0.8" fill="none" />
</g>
<path d="M474.5 324 L501.5 307.4" stroke="#222" stroke-width="0.8" fill="none" stroke-dasharray="7 2 1.5 2"/>
<path d="M353.8 396 L360.8 392" stroke="#222" stroke-width="0.8" fill="none" stroke-dasharray="7 2 1.5 2"/>
<path d="M383.6 378.4 L394 371.6" stroke="#222" stroke-width="0.8" fill="none" stroke-dasharray="7 2 1.5 2"/>
<g transform="translate(372.4 385.9) rotate(-29.3)">
<path d="M-13.6 -3.7 H-4 A1.5 3.7 0 0 1 -4 3.7 H-13.6 A1.5 3.7 0 0 1 -13.6 -3.7Z" stroke="#1a1a1a" stroke-width="1.0" fill="#fff" />
<path d="M-11.30 -3.7 A1.5 3.7 0 0 1 -11.30 3.7" stroke="#1a1a1a" stroke-width="0.8" fill="none" />
<path d="M-9.00 -3.7 A1.5 3.7 0 0 1 -9.00 3.7" stroke="#1a1a1a" stroke-width="0.8" fill="none" />
<path d="M-6.70 -3.7 A1.5 3.7 0 0 1 -6.70 3.7" stroke="#1a1a1a" stroke-width="0.8" fill="none" />
<path d="M-6.2 -4.8 H-3.6 V4.8 H-6.2 A1.4 4.8 0 0 1 -6.2 -4.8Z" stroke="#1a1a1a" stroke-width="1.0" fill="#fff" />
<path d="M4.2 -5.0 H11.6 A1.6 5.0 0 0 1 11.6 5.0 H4.2 A1.6 5.0 0 0 1 4.2 -5.0Z" stroke="#1a1a1a" stroke-width="1.0" fill="#fff" />
<path d="M5.90 -5.0 A1.6 5.0 0 0 1 5.90 5.0" stroke="#1a1a1a" stroke-width="0.8" fill="none" />
<path d="M7.60 -5.0 A1.6 5.0 0 0 1 7.60 5.0" stroke="#1a1a1a" stroke-width="0.8" fill="none" />
<path d="M9.30 -5.0 A1.6 5.0 0 0 1 9.30 5.0" stroke="#1a1a1a" stroke-width="0.8" fill="none" />
<path d="M11.00 -5.0 A1.6 5.0 0 0 1 11.00 5.0" stroke="#1a1a1a" stroke-width="0.8" fill="none" />
<path d="M2.6 -5.6 H5 A1.7 5.6 0 0 1 5 5.6 H2.6Z" stroke="#1a1a1a" stroke-width="1.0" fill="#fff" />
</g>
<g transform="translate(370.4 387.0) rotate(-29.3)">
<path d="M0.00 -6.80 L4.60 -6.80 L6.51 -3.40 L6.51 3.40 L4.60 6.80 L0.00 6.80 L-1.91 3.40 L-1.91 -3.40 Z" stroke="#1a1a1a" stroke-width="1.1" fill="#fff" />
<path d="M0.00 -6.80 L1.91 -3.40 L1.91 3.40 L0.00 6.80 L-1.91 3.40 L-1.91 -3.40 Z" stroke="#1a1a1a" stroke-width="1.0" fill="#fff" />
<path d="M1.91 -3.40 L6.51 -3.40 M1.91 3.40 L6.51 3.40" stroke="#1a1a1a" stroke-width="0.9" fill="none" />
</g>
</g>
<g id="hose12">
<path d="M297.3 362.4 C302 359.6 308 357.8 311 358 C320 358.6 326 368 330 382 C336 402 341.5 425 342.6 450 C343.4 476 340 498 331.6 511 C325 522 317 526.4 309.6 526 C298 525 286 516 278.6 503 C272.6 492 270.6 478 271.2 465 C272 454 278 446 290.6 435.6 C301 427 314 416 327.6 405.4" stroke="#1a1a1a" stroke-width="1.1" fill="none" />
<path d="M298.9 371.2 C303 368 307.6 365.6 310.4 365.4 C317 365.6 321.4 373 324.8 384 C328 394 330.6 403 331.4 408 M332.6 413 C334.6 425 335.6 440 335.6 452 C335.6 472 333 492 326.6 504.6 C321.6 514 315.6 518.6 309.8 518.6 C301 518.2 291.6 510 285.6 500 C280.4 491 277.8 478 278.2 467 C278.8 459 283 453 292.6 443.4 C303 433.6 318 421 332.6 412.6" stroke="#1a1a1a" stroke-width="1.1" fill="none" />
<path d="M282 372.7 L297.3 362.4 M285.8 380.4 L298.9 371.2" stroke="#1a1a1a" stroke-width="1.1" fill="none" />
<path d="M296.4 362.8 C298.4 365 299.4 368 299 371.2" stroke="#1a1a1a" stroke-width="1.1" fill="none" />
<path d="M327.6 405.4 L343.6 396 L347.4 402.6 L332.6 412.6 Z" stroke="#1a1a1a" stroke-width="1.1" fill="#fff" />
<path d="M327.6 405.4 L332.6 412.6" stroke="#1a1a1a" stroke-width="1.2" fill="none" />
<g transform="translate(277.3 378.6) rotate(-30)">
<path d="M0.00 -8.10 L4.20 -8.10 L8.70 -4.05 L8.70 4.05 L4.20 8.10 L0.00 8.10 L-4.50 4.05 L-4.50 -4.05 Z" stroke="#1a1a1a" stroke-width="1.1" fill="#fff" />
<path d="M0.00 -8.10 L4.50 -4.05 L4.50 4.05 L0.00 8.10 L-4.50 4.05 L-4.50 -4.05 Z" stroke="#1a1a1a" stroke-width="1.0" fill="#fff" />
<path d="M4.50 -4.05 L8.70 -4.05 M4.50 4.05 L8.70 4.05" stroke="#1a1a1a" stroke-width="0.9" fill="none" />
<ellipse cx="0" cy="0" rx="3.4320000000000004" ry="5.346" stroke="#1a1a1a" stroke-width="1.0" fill="none"/>
<ellipse cx="0.3" cy="0.2" rx="1.8719999999999999" ry="3.24" stroke="#1a1a1a" stroke-width="0.9" fill="none"/>
</g>
<g transform="translate(347.4 399.4) rotate(-30) scale(-1,1)">
<path d="M0.00 -7.30 L3.80 -7.30 L6.92 -3.65 L6.92 3.65 L3.80 7.30 L0.00 7.30 L-3.12 3.65 L-3.12 -3.65 Z" stroke="#1a1a1a" stroke-width="1.1" fill="#fff" />
<path d="M0.00 -7.30 L3.12 -3.65 L3.12 3.65 L0.00 7.30 L-3.12 3.65 L-3.12 -3.65 Z" stroke="#1a1a1a" stroke-width="1.0" fill="#fff" />
<path d="M3.12 -3.65 L6.92 -3.65 M3.12 3.65 L6.92 3.65" stroke="#1a1a1a" stroke-width="0.9" fill="none" />
</g>
<path d="M229.4 384.4 C235 388.6 241 390.6 246 390.5 C252 390.4 258 388 264 383.8 L266.6 390 C260 395 252 397.4 245.4 397.1 C238 396.8 231 393.6 226.6 390.6 Z" stroke="#1a1a1a" stroke-width="1.1" fill="#fff" />
<ellipse cx="228.8" cy="387.7" rx="1.4" ry="4.1" stroke="#1a1a1a" stroke-width="1.0" fill="#fff" transform="rotate(14 228.8 387.7)"/>
<ellipse cx="226.8" cy="387.09999999999997" rx="1.4" ry="4.1" stroke="#1a1a1a" stroke-width="1.0" fill="#fff" transform="rotate(14 226.8 387.09999999999997)"/>
<ellipse cx="224.8" cy="386.5" rx="1.4" ry="4.1" stroke="#1a1a1a" stroke-width="1.0" fill="#fff" transform="rotate(14 224.8 386.5)"/>
<ellipse cx="222.8" cy="385.9" rx="1.4" ry="4.1" stroke="#1a1a1a" stroke-width="1.0" fill="#fff" transform="rotate(14 222.8 385.9)"/>
<ellipse cx="264.8" cy="386.4" rx="1.4" ry="4.1" stroke="#1a1a1a" stroke-width="1.0" fill="#fff" transform="rotate(-24 264.8 386.4)"/>
<ellipse cx="266.6" cy="385.9" rx="1.4" ry="4.1" stroke="#1a1a1a" stroke-width="1.0" fill="#fff" transform="rotate(-24 266.6 385.9)"/>
<ellipse cx="268.40000000000003" cy="385.4" rx="1.4" ry="4.1" stroke="#1a1a1a" stroke-width="1.0" fill="#fff" transform="rotate(-24 268.40000000000003 385.4)"/>
<ellipse cx="270.2" cy="384.9" rx="1.4" ry="4.1" stroke="#1a1a1a" stroke-width="1.0" fill="#fff" transform="rotate(-24 270.2 384.9)"/>
<path d="M211 376.6 L220 382.4" stroke="#222" stroke-width="0.8" fill="none" stroke-dasharray="7 2 1.5 2"/>
</g>
<g id="tank">
<path d="M531 537.4 L571.4 559.6 L587.6 551.2 L606 561" stroke="#1a1a1a" stroke-width="0.8" fill="none" stroke-dasharray="5 2"/>
<path d="M617.6 568.6 L628.4 574.6 L624.6 579.6 L613.8 573.6" stroke="#1a1a1a" stroke-width="0.8" fill="none" />
<path d="M560.5 601.2 L614 571.6 L690.8 618.8 L642.6 646.4 Z" stroke="#1a1a1a" stroke-width="1.1" fill="#fff" />
<path d="M560.5 601.2 V715.6 L642.6 764.6 L690.8 737.2 V618.8 M642.6 646.4 V764.6" stroke="#1a1a1a" stroke-width="1.1" fill="none" />
<path d="M598.6 588 C598 578 601 569 607 563.4 C611 559.6 616 557.6 620.6 557.2 C623.6 557.6 625.6 562 624.6 565.4 C620 566 616 568.4 613 572.6 C609.6 577.4 608 583 607.6 588.6 C605 590 601 589.8 598.6 588 Z" stroke="#1a1a1a" stroke-width="1.1" fill="#fff" />
<path d="M598.6 604.6 C602 600.6 607 599.6 611 599.8 C618 600.4 622.6 605 623.4 611 L623.4 620 C621 623 616 623.4 612.8 621 L612.6 613 L603 616.6 C599 616.4 597 611 598.6 604.6 Z" stroke="#1a1a1a" stroke-width="1.1" fill="#fff" />
<path d="M606 605.6 C610 604.6 614 606.6 615 610 C616.4 613 617 618 616.8 622.6" stroke="#1a1a1a" stroke-width="0.9" fill="none" />
<ellipse cx="601.6" cy="610.4" rx="3.2" ry="5" stroke="#1a1a1a" stroke-width="1.0" fill="#fff" transform="rotate(-30 601.6 610.4)"/>
<ellipse cx="601.4" cy="610.8" rx="1.6" ry="2.6" stroke="#1a1a1a" stroke-width="0.8" fill="none" transform="rotate(-30 601.4 610.8)"/>
<ellipse cx="646.2" cy="618.3" rx="12.3" ry="7.2" stroke="#1a1a1a" stroke-width="1.1" fill="none"/>
<ellipse cx="628.2" cy="613.6" rx="1.7" ry="1.2" stroke="#1a1a1a" stroke-width="0.8" fill="none"/>
<ellipse cx="662.6" cy="613.2" rx="1.7" ry="1.2" stroke="#1a1a1a" stroke-width="0.8" fill="none"/>
<ellipse cx="631.2" cy="624" rx="1.7" ry="1.2" stroke="#1a1a1a" stroke-width="0.8" fill="none"/>
<ellipse cx="661.8" cy="625" rx="1.7" ry="1.2" stroke="#1a1a1a" stroke-width="0.8" fill="none"/>
<ellipse cx="644.4" cy="629.4" rx="1.7" ry="1.2" stroke="#1a1a1a" stroke-width="0.8" fill="none"/>
<ellipse cx="648" cy="608.2" rx="1.7" ry="1.2" stroke="#1a1a1a" stroke-width="0.8" fill="none"/>
<path d="M644.4 600 V620" stroke="#222" stroke-width="0.8" fill="none" stroke-dasharray="7 2 1.5 2"/>
<path d="M577.4 661.4 C579 658.6 582.4 658.8 584.6 660.4 L598.4 669.6 C601.6 672.6 600.4 679 596.4 679.2 L579 668.6 C576.4 666.6 576.2 663.4 577.4 661.4 Z" stroke="#1a1a1a" stroke-width="1.0" fill="#fff" />
<ellipse cx="579.8" cy="664.6" rx="2.2" ry="4" stroke="#1a1a1a" stroke-width="0.9" fill="none" transform="rotate(-30 579.8 664.6)"/>
<path d="M678.4 684.2 V695.4 L677.4 695.8 L671.2 692.2" stroke="#1a1a1a" stroke-width="1.0" fill="none" />
<path d="M678.3 684.4 V695.2" stroke="#1a1a1a" stroke-width="1.7" fill="none" />
<path d="M660.3 684.8 V686 L669.6 691 L678.7 685.6" stroke="#1a1a1a" stroke-width="1.0" fill="none" />
<path d="M660.3 684.8 L669 680.3 L678.7 684.2 L669.6 689.6 Z" stroke="#1a1a1a" stroke-width="1.1" fill="#fff" />
<path d="M666.4 684 A2.7 1.7 0 0 0 671.6 684" stroke="#1a1a1a" stroke-width="1.4" fill="none" />
<path d="M666.4 684 A2.7 1.5 0 0 1 671.6 684" stroke="#1a1a1a" stroke-width="0.7" fill="none" />
<path d="M669.6 690.6 V697.6" stroke="#1a1a1a" stroke-width="1.2" fill="none" />
<path d="M728 652 V700.6 L669 668.6 V681" stroke="#1a1a1a" stroke-width="0.8" fill="none" stroke-dasharray="7 2 1.5 2"/>
<path d="M669.6 699 V705 L726.4 736.4 V778" stroke="#1a1a1a" stroke-width="0.8" fill="none" stroke-dasharray="7 2 1.5 2"/>
<path d="M728 629 V636" stroke="#222" stroke-width="0.8" fill="none" stroke-dasharray="7 2 1.5 2"/>
<path d="M720.6 639.6 V647 A7.4 3.6 0 0 0 735.4 647 V639.6 Z" stroke="#1a1a1a" stroke-width="1.1" fill="#fff" />
<ellipse cx="728" cy="639.6" rx="7.4" ry="4.4" stroke="#1a1a1a" stroke-width="1.1" fill="#fff"/>
<ellipse cx="728" cy="639.8" rx="3.6" ry="2.1" stroke="#1a1a1a" stroke-width="0.9" fill="none"/>
<path d="M720.3 784.0 v1.6 A6.0 3.4 0 0 0 732.3 785.6 v-1.6" stroke="#1a1a1a" stroke-width="1.0" fill="#fff" />
<ellipse cx="726.3" cy="784.0" rx="6.0" ry="3.4" stroke="#1a1a1a" stroke-width="1.0" fill="#fff"/>
<ellipse cx="726.3" cy="784.0" rx="3.0" ry="1.7" stroke="#1a1a1a" stroke-width="1.0" fill="#fff"/>
<path d="M726.6 790 V811" stroke="#222" stroke-width="0.8" fill="none" stroke-dasharray="7 2 1.5 2"/>
<path d="M723.8 810 V822 M729.8 810 V822" stroke="#1a1a1a" stroke-width="1" fill="none" />
<path d="M723.8 812.2 L729.8 811" stroke="#1a1a1a" stroke-width="0.8" fill="none" />
<path d="M723.8 814.2 L729.8 813" stroke="#1a1a1a" stroke-width="0.8" fill="none" />
<path d="M723.8 816.2 L729.8 815" stroke="#1a1a1a" stroke-width="0.8" fill="none" />
<path d="M723.8 818.2 L729.8 817" stroke="#1a1a1a" stroke-width="0.8" fill="none" />
<path d="M723.8 820.2 L729.8 819" stroke="#1a1a1a" stroke-width="0.8" fill="none" />
<path d="M720.0 822.5 v5.0 A6.8 3.2 0 0 0 733.5999999999999 827.5 v-5.0" stroke="#1a1a1a" stroke-width="1.0" fill="#fff" />
<ellipse cx="726.8" cy="822.5" rx="6.8" ry="3.2" stroke="#1a1a1a" stroke-width="1.0" fill="#fff"/>
<ellipse cx="726.8" cy="822.2" rx="4.6" ry="2.0" stroke="#1a1a1a" stroke-width="0.8" fill="#fff"/>
<path d="M723.8 825.4000000000001 v5.0 M730.3 825.3000000000001 v5.0" stroke="#1a1a1a" stroke-width="0.8" fill="none" />
<path d="M723.8 819 V822.5 M729.8 819 V822.5" stroke="#1a1a1a" stroke-width="1" fill="none" />
<path d="M668.4 751 V795" stroke="#222" stroke-width="0.8" fill="none" stroke-dasharray="7 2 1.5 2"/>
<path d="M662.4 799.6 v1.6 A6.2 3.6 0 0 0 674.8000000000001 801.2 v-1.6" stroke="#1a1a1a" stroke-width="1.0" fill="#fff" />
<ellipse cx="668.6" cy="799.6" rx="6.2" ry="3.6" stroke="#1a1a1a" stroke-width="1.0" fill="#fff"/>
<ellipse cx="668.6" cy="799.6" rx="3.1" ry="1.8" stroke="#1a1a1a" stroke-width="1.0" fill="#fff"/>
<path d="M668.6 806 V827" stroke="#222" stroke-width="0.8" fill="none" stroke-dasharray="7 2 1.5 2"/>
<path d="M665.8 826 V838 M671.8 826 V838" stroke="#1a1a1a" stroke-width="1" fill="none" />
<path d="M665.8 828.2 L671.8 827" stroke="#1a1a1a" stroke-width="0.8" fill="none" />
<path d="M665.8 830.2 L671.8 829" stroke="#1a1a1a" stroke-width="0.8" fill="none" />
<path d="M665.8 832.2 L671.8 831" stroke="#1a1a1a" stroke-width="0.8" fill="none" />
<path d="M665.8 834.2 L671.8 833" stroke="#1a1a1a" stroke-width="0.8" fill="none" />
<path d="M665.8 836.2 L671.8 835" stroke="#1a1a1a" stroke-width="0.8" fill="none" />
<path d="M662.0 838.5 v5.0 A6.8 3.2 0 0 0 675.5999999999999 843.5 v-5.0" stroke="#1a1a1a" stroke-width="1.0" fill="#fff" />
<ellipse cx="668.8" cy="838.5" rx="6.8" ry="3.2" stroke="#1a1a1a" stroke-width="1.0" fill="#fff"/>
<ellipse cx="668.8" cy="838.2" rx="4.6" ry="2.0" stroke="#1a1a1a" stroke-width="0.8" fill="#fff"/>
<path d="M665.8 841.4000000000001 v5.0 M672.3 841.3000000000001 v5.0" stroke="#1a1a1a" stroke-width="0.8" fill="none" />
<path d="M665.8 835 V838.5 M671.8 835 V838.5" stroke="#1a1a1a" stroke-width="1" fill="none" />
<path d="M552.6 523.2 L559.4 519.6" stroke="#222" stroke-width="0.8" fill="none" stroke-dasharray="7 2 1.5 2"/>
<g transform="translate(574.6 511.2) rotate(-28)">
<path d="M-16.4 -2.4 H-2 A1.0 2.4 0 0 1 -2 2.4 H-16.4 A1.0 2.4 0 0 1 -16.4 -2.4Z" stroke="#1a1a1a" stroke-width="1.0" fill="#fff" />
<path d="M-14.30 -2.4 A1.0 2.4 0 0 1 -14.30 2.4" stroke="#1a1a1a" stroke-width="0.8" fill="none" />
<path d="M-12.20 -2.4 A1.0 2.4 0 0 1 -12.20 2.4" stroke="#1a1a1a" stroke-width="0.8" fill="none" />
<path d="M-10.10 -2.4 A1.0 2.4 0 0 1 -10.10 2.4" stroke="#1a1a1a" stroke-width="0.8" fill="none" />
<path d="M-8.00 -2.4 A1.0 2.4 0 0 1 -8.00 2.4" stroke="#1a1a1a" stroke-width="0.8" fill="none" />
<path d="M-5.90 -2.4 A1.0 2.4 0 0 1 -5.90 2.4" stroke="#1a1a1a" stroke-width="0.8" fill="none" />
<path d="M-3.80 -2.4 A1.0 2.4 0 0 1 -3.80 2.4" stroke="#1a1a1a" stroke-width="0.8" fill="none" />
</g>
<g transform="translate(576.0 510.5) rotate(-28) scale(-1,1)">
<path d="M0.00 -6.80 L4.20 -6.80 L7.06 -3.40 L7.06 3.40 L4.20 6.80 L0.00 6.80 L-2.86 3.40 L-2.86 -3.40 Z" stroke="#1a1a1a" stroke-width="1.1" fill="#fff" />
<path d="M0.00 -6.80 L2.86 -3.40 L2.86 3.40 L0.00 6.80 L-2.86 3.40 L-2.86 -3.40 Z" stroke="#1a1a1a" stroke-width="1.0" fill="#fff" />
<path d="M2.86 -3.40 L7.06 -3.40 M2.86 3.40 L7.06 3.40" stroke="#1a1a1a" stroke-width="0.9" fill="none" />
</g>
<g transform="rotate(-22 547.2 527.4)">
<ellipse cx="547.8" cy="527.4" rx="5.0" ry="6.3" stroke="#1a1a1a" stroke-width="1.1" fill="#fff"/>
<ellipse cx="546.8" cy="527.2" rx="4.8" ry="6.1" stroke="#1a1a1a" stroke-width="1.0" fill="#fff"/>
<ellipse cx="546.4" cy="527" rx="2.2" ry="3.1" stroke="#1a1a1a" stroke-width="1.0" fill="none"/>
</g>
<g transform="translate(639.1 555) rotate(-17)">
<path d="M-4.6 -10.5 l0.4 -2.6 l6.6 -0.8 l1.8 1.8 l-0.4 2.6 Z" stroke="#1a1a1a" stroke-width="1.05" fill="#fff" />
<path d="M-3.4 -12.3 l6 -0.7 M4 -12.1 l2.6 1.6 l-0.6 2.2" stroke="#1a1a1a" stroke-width="0.9" fill="none" />
<ellipse cx="0" cy="0" rx="9.5" ry="11.9" stroke="#1a1a1a" stroke-width="1.2" fill="#fff"/>
<ellipse cx="0.4" cy="0.1" rx="7.6" ry="9.9" stroke="#1a1a1a" stroke-width="1.0" fill="#fff"/>
<ellipse cx="1.5" cy="0.4" rx="5.9" ry="8.3" stroke="#1a1a1a" stroke-width="1.0" fill="#fff"/>
<path d="M-8.6 3.2 A8.5 10.8 0 0 0 4.5 9.100000000000001" stroke="#1a1a1a" stroke-width="0.8" fill="none" />
</g>
<path d="M627 561.4 L652 548.6" stroke="#222" stroke-width="0.8" fill="none" stroke-dasharray="7 2 1.5 2"/>
</g>
<g id="hose18">
<path d="M409 689.4 C420 682.4 434 674 445 667 C453 661 458 653 464 645 C470 637.6 477 630.6 485 626.4 C493 622.8 503 621.6 512 622.4 C520 623.2 527 626 531.4 630.2" stroke="#1a1a1a" stroke-width="1.1" fill="none" />
<path d="M414.4 700.4 C424 694.4 436 687.4 446 681.6 C454 676.6 461 668 466.4 660.4 C472 652 478 644.6 486 640 C494 635.8 504 634.4 513 635 C519 635.4 524 637.4 528.4 640.4" stroke="#1a1a1a" stroke-width="1.1" fill="none" />
<path d="M531.4 630.2 C533 633 531.6 638.6 528.4 640.4" stroke="#1a1a1a" stroke-width="1.0" fill="none" />
<ellipse cx="411.4" cy="694.6" rx="3.0" ry="5.8" stroke="#1a1a1a" stroke-width="1.0" fill="#fff" transform="rotate(-28 411.4 694.6)"/>
<ellipse cx="411.6" cy="694.8" rx="1.3" ry="2.4" stroke="#1a1a1a" stroke-width="0.8" fill="none" transform="rotate(-28 411.6 694.8)"/>
<g transform="translate(546.4 648) rotate(24) scale(-1,1)">
<path d="M-4.6 -10.5 l0.4 -2.6 l6.6 -0.8 l1.8 1.8 l-0.4 2.6 Z" stroke="#1a1a1a" stroke-width="1.05" fill="#fff" />
<path d="M-3.4 -12.3 l6 -0.7 M4 -12.1 l2.6 1.6 l-0.6 2.2" stroke="#1a1a1a" stroke-width="0.9" fill="none" />
<ellipse cx="0" cy="0" rx="9.5" ry="11.9" stroke="#1a1a1a" stroke-width="1.2" fill="#fff"/>
<ellipse cx="0.4" cy="0.1" rx="7.6" ry="9.9" stroke="#1a1a1a" stroke-width="1.0" fill="#fff"/>
<ellipse cx="1.5" cy="0.4" rx="5.9" ry="8.3" stroke="#1a1a1a" stroke-width="1.0" fill="#fff"/>
<path d="M-8.6 3.2 A8.5 10.8 0 0 0 4.5 9.100000000000001" stroke="#1a1a1a" stroke-width="0.8" fill="none" />
</g>
<path d="M535 640.4 L578 663" stroke="#222" stroke-width="0.8" fill="none" stroke-dasharray="7 2 1.5 2"/>
<path d="M538.80 688.00 L545.80 688.00 L545.80 659.40" stroke="#111" stroke-width="1.2" fill="none" />
<g transform="translate(381.8 711.3) rotate(-18)">
<path d="M-4.6 -10.5 l0.4 -2.6 l6.6 -0.8 l1.8 1.8 l-0.4 2.6 Z" stroke="#1a1a1a" stroke-width="1.05" fill="#fff" />
<path d="M-3.4 -12.3 l6 -0.7 M4 -12.1 l2.6 1.6 l-0.6 2.2" stroke="#1a1a1a" stroke-width="0.9" fill="none" />
<ellipse cx="0" cy="0" rx="9.5" ry="11.9" stroke="#1a1a1a" stroke-width="1.2" fill="#fff"/>
<ellipse cx="0.4" cy="0.1" rx="7.6" ry="9.9" stroke="#1a1a1a" stroke-width="1.0" fill="#fff"/>
<ellipse cx="1.5" cy="0.4" rx="5.9" ry="8.3" stroke="#1a1a1a" stroke-width="1.0" fill="#fff"/>
<path d="M-8.6 3.2 A8.5 10.8 0 0 0 4.5 9.100000000000001" stroke="#1a1a1a" stroke-width="0.8" fill="none" />
</g>
<path d="M381.30 723.80 L381.30 750.00 L387.60 750.00" stroke="#111" stroke-width="1.2" fill="none" />
<path d="M360.6 725.6 L408 694.4" stroke="#222" stroke-width="0.8" fill="none" stroke-dasharray="7 2 1.5 2"/>
<path d="M344.3 654.6 L340.2 664 H348.4 Z" stroke="#111" stroke-width="0.6" fill="#111" />
<path d="M344.3 663 V683" stroke="#111" stroke-width="1.3" fill="none" />
<path d="M344.3 683 V787" stroke="#222" stroke-width="0.8" fill="none" stroke-dasharray="7 2 1.5 2"/>
<path d="M338.1 701.2 v1.6 A6.2 3.8 0 0 0 350.5 702.8000000000001 v-1.6" stroke="#1a1a1a" stroke-width="1.0" fill="#fff" />
<ellipse cx="344.3" cy="701.2" rx="6.2" ry="3.8" stroke="#1a1a1a" stroke-width="1.0" fill="#fff"/>
<ellipse cx="344.3" cy="701.2" rx="3.1" ry="1.9" stroke="#1a1a1a" stroke-width="1.0" fill="#fff"/>
<path d="M346 724.6 L354.6 721.2 C358.6 722.6 361.4 727.6 360.6 731.6 L351.6 736.4 Z" stroke="#1a1a1a" stroke-width="1.1" fill="#fff" />
<path d="M334.9 728 V735.4 A8.4 5 0 0 0 351.7 735.4 V728 Z" stroke="#1a1a1a" stroke-width="1.1" fill="#fff" />
<ellipse cx="343.3" cy="728" rx="8.4" ry="5" stroke="#1a1a1a" stroke-width="1.1" fill="#fff"/>
<ellipse cx="343.5" cy="728.2" rx="4.2" ry="2.6" stroke="#1a1a1a" stroke-width="0.9" fill="none"/>
<path d="M338.1 761.6 v1.6 A6.2 3.8 0 0 0 350.5 763.2 v-1.6" stroke="#1a1a1a" stroke-width="1.0" fill="#fff" />
<ellipse cx="344.3" cy="761.6" rx="6.2" ry="3.8" stroke="#1a1a1a" stroke-width="1.0" fill="#fff"/>
<ellipse cx="344.3" cy="761.6" rx="3.1" ry="1.9" stroke="#1a1a1a" stroke-width="1.0" fill="#fff"/>
<path d="M341.3 786 V798.6 M347.3 786 V798.6" stroke="#1a1a1a" stroke-width="1" fill="none" />
<path d="M341.3 788.2 L347.3 787" stroke="#1a1a1a" stroke-width="0.8" fill="none" />
<path d="M341.3 790.2 L347.3 789" stroke="#1a1a1a" stroke-width="0.8" fill="none" />
<path d="M341.3 792.2 L347.3 791" stroke="#1a1a1a" stroke-width="0.8" fill="none" />
<path d="M341.3 794.2 L347.3 793" stroke="#1a1a1a" stroke-width="0.8" fill="none" />
<path d="M341.3 796.2 L347.3 795" stroke="#1a1a1a" stroke-width="0.8" fill="none" />
<path d="M337.3 799.1 v5.0 A7.0 3.2 0 0 0 351.3 804.1 v-5.0" stroke="#1a1a1a" stroke-width="1.0" fill="#fff" />
<ellipse cx="344.3" cy="799.1" rx="7.0" ry="3.2" stroke="#1a1a1a" stroke-width="1.0" fill="#fff"/>
<ellipse cx="344.3" cy="798.8000000000001" rx="4.8" ry="2.0" stroke="#1a1a1a" stroke-width="0.8" fill="#fff"/>
<path d="M341.3 802.0000000000001 v5.0 M347.8 801.9000000000001 v5.0" stroke="#1a1a1a" stroke-width="0.8" fill="none" />
<path d="M341.3 795.6 V799.1 M347.3 795.6 V799.1" stroke="#1a1a1a" stroke-width="1" fill="none" />
<path d="M468.2 600.4 L473.5 593.4 L477.2 599.8 Z" stroke="#111" stroke-width="0.6" fill="#111" />
<path d="M475.5 596.6 L495.7 584.5" stroke="#111" stroke-width="1.3" fill="none" />
<path d="M498.6 582.6 L576 626 L600.4 612.6" stroke="#1a1a1a" stroke-width="0.8" fill="none" stroke-dasharray="9 2.5 1.5 2.5"/>
</g>
<rect x="318.90000000000003" y="247.79999999999998" width="45.199999999999996" height="18.099999999999998" fill="#fff" stroke="#111" stroke-width="1.1"/>
<rect x="316.3" y="248.7" width="50.8" height="15.2" fill="#aaf0e8" stroke="#111" stroke-width="1.3"/>
<path d="M319.0 249.29999999999998 V263.29999999999995 M364.20000000000005 249.29999999999998 V263.29999999999995" stroke="#1f6663" stroke-width="1.1" fill="none" />
<text transform="scale(0.6,1)" x="542.50 553.17 563.83 574.50 585.17" y="261.0" font-size="13.6" fill="#4f9e99" style="filter:brightness(1)">07.16</text>
<rect x="422.70000000000005" y="601.3000000000001" width="45.1" height="18.2" fill="#fff" stroke="#111" stroke-width="1.1"/>
<rect x="420.1" y="602.2" width="50.7" height="15.3" fill="#aaf0e8" stroke="#111" stroke-width="1.3"/>
<path d="M422.8 602.8000000000001 V616.9 M467.90000000000003 602.8000000000001 V616.9" stroke="#1f6663" stroke-width="1.1" fill="none" />
<text transform="scale(0.6,1)" x="715.50 726.17 736.83 747.50 758.17" y="614.6" font-size="13.6" fill="#4f9e99" style="filter:brightness(1)">07.20</text>
<rect x="321.8" y="635.4" width="45.0" height="18.0" fill="#fff" stroke="#111" stroke-width="1.1"/>
<rect x="319.2" y="636.3" width="50.6" height="15.1" fill="#aaf0e8" stroke="#111" stroke-width="1.3"/>
<path d="M321.9 636.9 V650.8 M366.90000000000003 636.9 V650.8" stroke="#1f6663" stroke-width="1.1" fill="none" />
<text transform="scale(0.6,1)" x="547.33 558.00 568.67 579.33 590.00" y="648.5" font-size="13.6" fill="#4f9e99" style="filter:brightness(1)">13.06</text>
<path d="M572.00 193.80 L578.80 193.80 L606.00 209.00" stroke="#111" stroke-width="1.2" fill="none" />
<path d="M572.00 222.60 L578.80 222.60 L604.40 235.80" stroke="#111" stroke-width="1.2" fill="none" />
<path d="M572.00 247.20 L578.80 247.20 L604.40 261.40" stroke="#111" stroke-width="1.2" fill="none" />
<path d="M682.00 215.80 L675.00 215.80 L651.00 230.00" stroke="#111" stroke-width="1.2" fill="none" />
<path d="M682.00 244.60 L675.00 244.60 L658.00 254.40" stroke="#111" stroke-width="1.2" fill="none" />
<path d="M682.00 278.80 L675.00 278.80 L667.00 285.00" stroke="#111" stroke-width="1.2" fill="none" />
<path d="M682.00 321.80 L675.00 321.80 L667.60 326.40" stroke="#111" stroke-width="1.2" fill="none" />
<path d="M682.00 350.80 L675.00 350.80 L655.40 362.40" stroke="#111" stroke-width="1.2" fill="none" />
<path d="M760.00 440.80 L753.80 440.80 L728.80 455.40" stroke="#111" stroke-width="1.2" fill="none" />
<path d="M446.00 271.60 L439.00 271.60 L408.60 288.60" stroke="#111" stroke-width="1.2" fill="none" />
<path d="M440.00 294.30 L433.80 294.30 L408.80 309.40" stroke="#111" stroke-width="1.2" fill="none" />
<path d="M521.30 338.30 L515.00 338.30 L493.00 325.80" stroke="#111" stroke-width="1.2" fill="none" />
<path d="M500.00 355.80 L493.80 355.80 L463.80 338.80" stroke="#111" stroke-width="1.2" fill="none" />
<path d="M345.00 362.00 L352.00 362.00 L377.60 377.00" stroke="#111" stroke-width="1.2" fill="none" />
<path d="M210.50 412.60 L217.50 412.60 L242.60 397.60" stroke="#111" stroke-width="1.2" fill="none" />
<path d="M308.80 466.80 L302.50 466.80 L283.00 456.60" stroke="#111" stroke-width="1.2" fill="none" />
<path d="M450.00 448.80 L444.50 448.80 L432.00 442.00" stroke="#111" stroke-width="1.2" fill="none" />
<path d="M531.00 492.00 L537.60 492.00 L568.80 509.40" stroke="#111" stroke-width="1.2" fill="none" />
<path d="M507.60 505.60 L515.00 505.60 L543.80 523.60" stroke="#111" stroke-width="1.2" fill="none" />
<path d="M597.00 534.60 L603.80 534.60 L630.00 548.00" stroke="#111" stroke-width="1.2" fill="none" />
<path d="M682.60 583.00 L676.00 583.00 L652.60 595.00" stroke="#111" stroke-width="1.2" fill="none" />
<path d="M767.00 618.80 L760.00 618.80 L730.00 636.20" stroke="#111" stroke-width="1.2" fill="none" />
<path d="M767.00 762.60 L760.00 762.60 L730.00 780.00" stroke="#111" stroke-width="1.2" fill="none" />
<path d="M767.00 794.60 L760.00 794.60 L728.80 812.40" stroke="#111" stroke-width="1.2" fill="none" />
<path d="M645.00 793.00 L651.60 793.00 L663.80 798.80" stroke="#111" stroke-width="1.2" fill="none" />
<path d="M645.00 827.40 L651.60 827.40 L665.40 834.40" stroke="#111" stroke-width="1.2" fill="none" />
<path d="M413.00 651.30 L420.00 651.30 L445.00 666.30" stroke="#111" stroke-width="1.2" fill="none" />
<path d="M303.00 687.60 L310.00 687.60 L340.00 703.60" stroke="#111" stroke-width="1.2" fill="none" />
<path d="M303.00 719.60 L310.00 719.60 L335.60 732.40" stroke="#111" stroke-width="1.2" fill="none" />
<path d="M303.00 747.60 L310.00 747.60 L339.60 762.40" stroke="#111" stroke-width="1.2" fill="none" />
<path d="M303.00 779.60 L310.00 779.60 L341.20 796.20" stroke="#111" stroke-width="1.2" fill="none" />
<g id="arrowicon">
<rect x="800.2" y="845.9" width="59.8" height="59.3" fill="#fff" stroke="#111" stroke-width="1.6"/>
<path d="M805.2 882.9 L808.7 862.1 L816.3 866.3 L836.2 854.7 L854.6 865.1 L834.4 876.4 L843 880.9 Z" stroke="#111" stroke-width="1.3" fill="#fff" />
<path d="M805.2 882.9 L843 880.9 L834.4 876.4 L854.6 865.1 L854.6 877.9 L843.5 884.4 L843 894 L804.7 896.5 Z" stroke="#111" stroke-width="1.0" fill="#111" />
</g>
<g id="labels" style="filter:grayscale(1)">
<text transform="scale(0.6,1)" x="1142.00 1151.33" y="135.5" font-size="15" fill="#484848" >11</text>
<text transform="scale(0.6,1)" x="862.00" y="421.8" font-size="14" fill="#888" >4</text>
<text transform="scale(0.62,1)" x="886.77 900.97" y="194.6" font-size="17" fill="#484848" >17</text>
<text transform="scale(0.62,1)" x="886.77 900.97" y="223.0" font-size="17" fill="#484848" >16</text>
<text transform="scale(0.62,1)" x="886.77 900.97" y="247.6" font-size="17" fill="#484848" >15</text>
<text transform="scale(0.62,1)" x="1106.45 1124.84 1143.23" y="216.4" font-size="16.5" fill="#484848" >NSS</text>
<text transform="scale(0.62,1)" x="1106.77 1121.94" y="245.0" font-size="17" fill="#484848" >14</text>
<text transform="scale(0.62,1)" x="1106.45 1124.84 1143.23" y="278.8" font-size="16.5" fill="#484848" >NSS</text>
<text transform="scale(0.62,1)" x="1106.45 1124.84 1143.23" y="322.8" font-size="16.5" fill="#484848" >NSS</text>
<text transform="scale(0.62,1)" x="1107.74 1122.90" y="351.8" font-size="17" fill="#484848" >14</text>
<text transform="scale(0.62,1)" x="1233.87 1248.87" y="441.8" font-size="17" fill="#484848" >10</text>
<text transform="scale(0.62,1)" x="724.52" y="272.6" font-size="17" fill="#484848" >7</text>
<text transform="scale(0.62,1)" x="717.10" y="294.6" font-size="17" fill="#484848" >6</text>
<text transform="scale(0.62,1)" x="849.35 864.52" y="338.6" font-size="17" fill="#484848" >28</text>
<text transform="scale(0.62,1)" x="815.81" y="356.4" font-size="17" fill="#484848" >8</text>
<text transform="scale(0.62,1)" x="533.87" y="362.4" font-size="17" fill="#484848" >3</text>
<text transform="scale(0.62,1)" x="316.13" y="412.4" font-size="17" fill="#484848" >1</text>
<text transform="scale(0.62,1)" x="502.90" y="467.4" font-size="17" fill="#484848" >2</text>
<text transform="scale(0.62,1)" x="732.90" y="449.4" font-size="17" fill="#484848" >5</text>
<text transform="scale(0.62,1)" x="820.00 835.16" y="492.2" font-size="17" fill="#484848" >13</text>
<text transform="scale(0.62,1)" x="781.94 797.10" y="505.4" font-size="17" fill="#484848" >22</text>
<text transform="scale(0.62,1)" x="927.10 942.26" y="534.0" font-size="17" fill="#484848" >28</text>
<text transform="scale(0.62,1)" x="1106.45 1120.97" y="583.4" font-size="17" fill="#484848" >19</text>
<text transform="scale(0.62,1)" x="1243.23 1258.06" y="619.4" font-size="17" fill="#484848" >34</text>
<text transform="scale(0.62,1)" x="1243.23 1258.06" y="763.2" font-size="17" fill="#484848" >33</text>
<text transform="scale(0.62,1)" x="1243.23 1258.06" y="795.4" font-size="17" fill="#484848" >32</text>
<text transform="scale(0.62,1)" x="1002.58 1017.74" y="794.0" font-size="17" fill="#484848" >24</text>
<text transform="scale(0.62,1)" x="1002.58 1017.74" y="827.6" font-size="17" fill="#484848" >25</text>
<text transform="scale(0.62,1)" x="847.10" y="689.0" font-size="17" fill="#484848" >9</text>
<text transform="scale(0.62,1)" x="632.58" y="750.0" font-size="17" fill="#484848" >9</text>
<text transform="scale(0.62,1)" x="629.68 644.84" y="652.4" font-size="17" fill="#484848" >18</text>
<text transform="scale(0.62,1)" x="451.94 467.10" y="688.0" font-size="17" fill="#484848" >26</text>
<text transform="scale(0.62,1)" x="451.94 467.10" y="720.4" font-size="17" fill="#484848" >27</text>
<text transform="scale(0.62,1)" x="451.94 467.10" y="748.0" font-size="17" fill="#484848" >26</text>
<text transform="scale(0.62,1)" x="451.94 467.10" y="780.0" font-size="17" fill="#484848" >12</text>
</g>
</svg></body></html>
